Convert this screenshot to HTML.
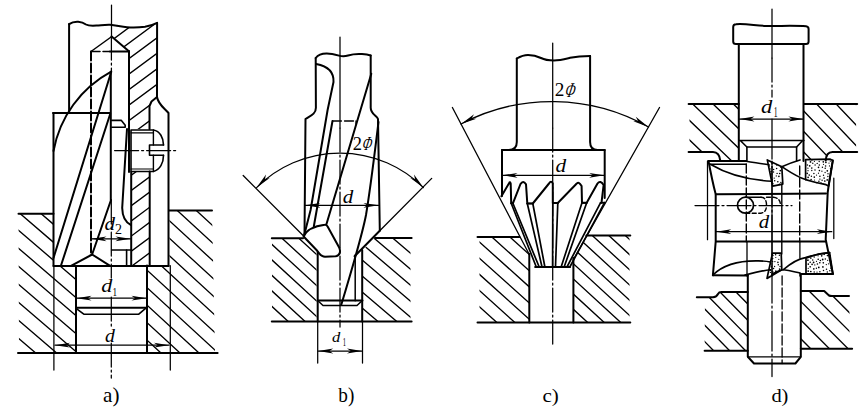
<!DOCTYPE html>
<html><head><meta charset="utf-8"><style>
html,body{margin:0;padding:0;background:#fff;width:865px;height:412px;overflow:hidden}
svg{display:block}
text{fill:#000;stroke:none;font-family:"Liberation Serif",serif}
</style></head><body>
<svg width="865" height="412" viewBox="0 0 865 412">
<defs><clipPath id="c1"><polygon points="18.5,214 53.7,214 53.7,266 76,266 76,353 19,353"/></clipPath><clipPath id="c2"><polygon points="169.5,210.5 212,210.5 215,353 147,353 147,265.5 169.5,265.5"/></clipPath><clipPath id="c3"><polygon points="111.6,25 121,26.8 127,27.3 139,27.6 150,26 157.1,22.9 157,97 151.5,101.5 149.5,106 149.5,129 129,129 129,51 111.6,36.4"/></clipPath><clipPath id="c4"><polygon points="131.2,172 149.7,172 149.7,265 131.2,265"/></clipPath><clipPath id="c5"><polygon points="272,238.5 302.7,238.5 316.5,252.5 316.5,321.4 272,321.4"/></clipPath><clipPath id="c6"><polygon points="374.8,238 410.5,238 410.5,321.4 362.5,321.4 362.5,250.5"/></clipPath><clipPath id="c7"><polygon points="479.5,237 519.3,237 529.3,254.5 529.3,322.6 479.5,322.6"/></clipPath><clipPath id="c8"><polygon points="586.4,235.5 629.5,235.5 629.5,322.6 573.4,322.6 573.4,259.5"/></clipPath><clipPath id="c9"><polygon points="689.5,104.1 738.9,104.1 738.9,160.4 720.2,160.4 715,153 689.5,151.5"/></clipPath><clipPath id="c10"><polygon points="803.9,104.1 856.1,104.1 856.1,151.2 831.8,151.2 826,158 825.7,160.4 803.9,160.4"/></clipPath><clipPath id="c11"><polygon points="705,297.2 714.3,297.2 720.4,292.1 747.6,292.1 747.6,350.4 704.6,350.4"/></clipPath><clipPath id="c12"><polygon points="800.8,291.1 824.2,291.1 831.5,296 849.5,296 849.5,348.7 800.8,348.7"/></clipPath></defs>
<rect width="865" height="412" fill="#fff"/>
<g stroke="#000" fill="none" stroke-linecap="round" stroke-linejoin="round" font-family="'Liberation Serif', serif">
<g clip-path="url(#c1)">
<line x1="-50" y1="-872.7" x2="915" y2="-42.8" stroke-width="1.35"/>
<line x1="-50" y1="-854.7" x2="915" y2="-24.8" stroke-width="1.35"/>
<line x1="-50" y1="-836.7" x2="915" y2="-6.8" stroke-width="1.35"/>
<line x1="-50" y1="-818.7" x2="915" y2="11.2" stroke-width="1.35"/>
<line x1="-50" y1="-800.7" x2="915" y2="29.2" stroke-width="1.35"/>
<line x1="-50" y1="-782.7" x2="915" y2="47.2" stroke-width="1.35"/>
<line x1="-50" y1="-764.7" x2="915" y2="65.2" stroke-width="1.35"/>
<line x1="-50" y1="-746.7" x2="915" y2="83.2" stroke-width="1.35"/>
<line x1="-50" y1="-728.7" x2="915" y2="101.2" stroke-width="1.35"/>
<line x1="-50" y1="-710.7" x2="915" y2="119.2" stroke-width="1.35"/>
<line x1="-50" y1="-692.7" x2="915" y2="137.2" stroke-width="1.35"/>
<line x1="-50" y1="-674.7" x2="915" y2="155.2" stroke-width="1.35"/>
<line x1="-50" y1="-656.7" x2="915" y2="173.2" stroke-width="1.35"/>
<line x1="-50" y1="-638.7" x2="915" y2="191.2" stroke-width="1.35"/>
<line x1="-50" y1="-620.7" x2="915" y2="209.2" stroke-width="1.35"/>
<line x1="-50" y1="-602.7" x2="915" y2="227.2" stroke-width="1.35"/>
<line x1="-50" y1="-584.7" x2="915" y2="245.2" stroke-width="1.35"/>
<line x1="-50" y1="-566.7" x2="915" y2="263.2" stroke-width="1.35"/>
<line x1="-50" y1="-548.7" x2="915" y2="281.2" stroke-width="1.35"/>
<line x1="-50" y1="-530.7" x2="915" y2="299.2" stroke-width="1.35"/>
<line x1="-50" y1="-512.7" x2="915" y2="317.2" stroke-width="1.35"/>
<line x1="-50" y1="-494.7" x2="915" y2="335.2" stroke-width="1.35"/>
<line x1="-50" y1="-476.7" x2="915" y2="353.2" stroke-width="1.35"/>
<line x1="-50" y1="-458.7" x2="915" y2="371.2" stroke-width="1.35"/>
<line x1="-50" y1="-440.7" x2="915" y2="389.2" stroke-width="1.35"/>
<line x1="-50" y1="-422.7" x2="915" y2="407.2" stroke-width="1.35"/>
<line x1="-50" y1="-404.7" x2="915" y2="425.2" stroke-width="1.35"/>
<line x1="-50" y1="-386.7" x2="915" y2="443.2" stroke-width="1.35"/>
<line x1="-50" y1="-368.7" x2="915" y2="461.2" stroke-width="1.35"/>
<line x1="-50" y1="-350.7" x2="915" y2="479.2" stroke-width="1.35"/>
<line x1="-50" y1="-332.7" x2="915" y2="497.2" stroke-width="1.35"/>
<line x1="-50" y1="-314.7" x2="915" y2="515.2" stroke-width="1.35"/>
<line x1="-50" y1="-296.7" x2="915" y2="533.2" stroke-width="1.35"/>
<line x1="-50" y1="-278.7" x2="915" y2="551.2" stroke-width="1.35"/>
<line x1="-50" y1="-260.7" x2="915" y2="569.2" stroke-width="1.35"/>
<line x1="-50" y1="-242.7" x2="915" y2="587.2" stroke-width="1.35"/>
<line x1="-50" y1="-224.7" x2="915" y2="605.2" stroke-width="1.35"/>
<line x1="-50" y1="-206.7" x2="915" y2="623.2" stroke-width="1.35"/>
<line x1="-50" y1="-188.7" x2="915" y2="641.2" stroke-width="1.35"/>
<line x1="-50" y1="-170.7" x2="915" y2="659.2" stroke-width="1.35"/>
<line x1="-50" y1="-152.7" x2="915" y2="677.2" stroke-width="1.35"/>
<line x1="-50" y1="-134.7" x2="915" y2="695.2" stroke-width="1.35"/>
<line x1="-50" y1="-116.7" x2="915" y2="713.2" stroke-width="1.35"/>
<line x1="-50" y1="-98.7" x2="915" y2="731.2" stroke-width="1.35"/>
<line x1="-50" y1="-80.7" x2="915" y2="749.2" stroke-width="1.35"/>
<line x1="-50" y1="-62.7" x2="915" y2="767.2" stroke-width="1.35"/>
<line x1="-50" y1="-44.7" x2="915" y2="785.2" stroke-width="1.35"/>
<line x1="-50" y1="-26.7" x2="915" y2="803.2" stroke-width="1.35"/>
<line x1="-50" y1="-8.7" x2="915" y2="821.2" stroke-width="1.35"/>
<line x1="-50" y1="9.3" x2="915" y2="839.2" stroke-width="1.35"/>
<line x1="-50" y1="27.3" x2="915" y2="857.2" stroke-width="1.35"/>
<line x1="-50" y1="45.3" x2="915" y2="875.2" stroke-width="1.35"/>
<line x1="-50" y1="63.3" x2="915" y2="893.2" stroke-width="1.35"/>
<line x1="-50" y1="81.3" x2="915" y2="911.2" stroke-width="1.35"/>
<line x1="-50" y1="99.3" x2="915" y2="929.2" stroke-width="1.35"/>
<line x1="-50" y1="117.3" x2="915" y2="947.2" stroke-width="1.35"/>
<line x1="-50" y1="135.3" x2="915" y2="965.2" stroke-width="1.35"/>
<line x1="-50" y1="153.3" x2="915" y2="983.2" stroke-width="1.35"/>
<line x1="-50" y1="171.3" x2="915" y2="1001.2" stroke-width="1.35"/>
<line x1="-50" y1="189.3" x2="915" y2="1019.2" stroke-width="1.35"/>
<line x1="-50" y1="207.3" x2="915" y2="1037.2" stroke-width="1.35"/>
<line x1="-50" y1="225.3" x2="915" y2="1055.2" stroke-width="1.35"/>
<line x1="-50" y1="243.3" x2="915" y2="1073.2" stroke-width="1.35"/>
<line x1="-50" y1="261.3" x2="915" y2="1091.2" stroke-width="1.35"/>
<line x1="-50" y1="279.3" x2="915" y2="1109.2" stroke-width="1.35"/>
<line x1="-50" y1="297.3" x2="915" y2="1127.2" stroke-width="1.35"/>
<line x1="-50" y1="315.3" x2="915" y2="1145.2" stroke-width="1.35"/>
<line x1="-50" y1="333.3" x2="915" y2="1163.2" stroke-width="1.35"/>
<line x1="-50" y1="351.3" x2="915" y2="1181.2" stroke-width="1.35"/>
<line x1="-50" y1="369.3" x2="915" y2="1199.2" stroke-width="1.35"/>
<line x1="-50" y1="387.3" x2="915" y2="1217.2" stroke-width="1.35"/>
<line x1="-50" y1="405.3" x2="915" y2="1235.2" stroke-width="1.35"/>
<line x1="-50" y1="423.3" x2="915" y2="1253.2" stroke-width="1.35"/>
<line x1="-50" y1="441.3" x2="915" y2="1271.2" stroke-width="1.35"/>
<line x1="-50" y1="459.3" x2="915" y2="1289.2" stroke-width="1.35"/>
</g>
<g clip-path="url(#c2)">
<line x1="-50" y1="-926.1" x2="915" y2="-38.3" stroke-width="1.35"/>
<line x1="-50" y1="-908.6" x2="915" y2="-20.8" stroke-width="1.35"/>
<line x1="-50" y1="-891.1" x2="915" y2="-3.3" stroke-width="1.35"/>
<line x1="-50" y1="-873.6" x2="915" y2="14.2" stroke-width="1.35"/>
<line x1="-50" y1="-856.1" x2="915" y2="31.7" stroke-width="1.35"/>
<line x1="-50" y1="-838.6" x2="915" y2="49.2" stroke-width="1.35"/>
<line x1="-50" y1="-821.1" x2="915" y2="66.7" stroke-width="1.35"/>
<line x1="-50" y1="-803.6" x2="915" y2="84.2" stroke-width="1.35"/>
<line x1="-50" y1="-786.1" x2="915" y2="101.7" stroke-width="1.35"/>
<line x1="-50" y1="-768.6" x2="915" y2="119.2" stroke-width="1.35"/>
<line x1="-50" y1="-751.1" x2="915" y2="136.7" stroke-width="1.35"/>
<line x1="-50" y1="-733.6" x2="915" y2="154.2" stroke-width="1.35"/>
<line x1="-50" y1="-716.1" x2="915" y2="171.7" stroke-width="1.35"/>
<line x1="-50" y1="-698.6" x2="915" y2="189.2" stroke-width="1.35"/>
<line x1="-50" y1="-681.1" x2="915" y2="206.7" stroke-width="1.35"/>
<line x1="-50" y1="-663.6" x2="915" y2="224.2" stroke-width="1.35"/>
<line x1="-50" y1="-646.1" x2="915" y2="241.7" stroke-width="1.35"/>
<line x1="-50" y1="-628.6" x2="915" y2="259.2" stroke-width="1.35"/>
<line x1="-50" y1="-611.1" x2="915" y2="276.7" stroke-width="1.35"/>
<line x1="-50" y1="-593.6" x2="915" y2="294.2" stroke-width="1.35"/>
<line x1="-50" y1="-576.1" x2="915" y2="311.7" stroke-width="1.35"/>
<line x1="-50" y1="-558.6" x2="915" y2="329.2" stroke-width="1.35"/>
<line x1="-50" y1="-541.1" x2="915" y2="346.7" stroke-width="1.35"/>
<line x1="-50" y1="-523.6" x2="915" y2="364.2" stroke-width="1.35"/>
<line x1="-50" y1="-506.1" x2="915" y2="381.7" stroke-width="1.35"/>
<line x1="-50" y1="-488.6" x2="915" y2="399.2" stroke-width="1.35"/>
<line x1="-50" y1="-471.1" x2="915" y2="416.7" stroke-width="1.35"/>
<line x1="-50" y1="-453.6" x2="915" y2="434.2" stroke-width="1.35"/>
<line x1="-50" y1="-436.1" x2="915" y2="451.7" stroke-width="1.35"/>
<line x1="-50" y1="-418.6" x2="915" y2="469.2" stroke-width="1.35"/>
<line x1="-50" y1="-401.1" x2="915" y2="486.7" stroke-width="1.35"/>
<line x1="-50" y1="-383.6" x2="915" y2="504.2" stroke-width="1.35"/>
<line x1="-50" y1="-366.1" x2="915" y2="521.7" stroke-width="1.35"/>
<line x1="-50" y1="-348.6" x2="915" y2="539.2" stroke-width="1.35"/>
<line x1="-50" y1="-331.1" x2="915" y2="556.7" stroke-width="1.35"/>
<line x1="-50" y1="-313.6" x2="915" y2="574.2" stroke-width="1.35"/>
<line x1="-50" y1="-296.1" x2="915" y2="591.7" stroke-width="1.35"/>
<line x1="-50" y1="-278.6" x2="915" y2="609.2" stroke-width="1.35"/>
<line x1="-50" y1="-261.1" x2="915" y2="626.7" stroke-width="1.35"/>
<line x1="-50" y1="-243.6" x2="915" y2="644.2" stroke-width="1.35"/>
<line x1="-50" y1="-226.1" x2="915" y2="661.7" stroke-width="1.35"/>
<line x1="-50" y1="-208.6" x2="915" y2="679.2" stroke-width="1.35"/>
<line x1="-50" y1="-191.1" x2="915" y2="696.7" stroke-width="1.35"/>
<line x1="-50" y1="-173.6" x2="915" y2="714.2" stroke-width="1.35"/>
<line x1="-50" y1="-156.1" x2="915" y2="731.7" stroke-width="1.35"/>
<line x1="-50" y1="-138.6" x2="915" y2="749.2" stroke-width="1.35"/>
<line x1="-50" y1="-121.1" x2="915" y2="766.7" stroke-width="1.35"/>
<line x1="-50" y1="-103.6" x2="915" y2="784.2" stroke-width="1.35"/>
<line x1="-50" y1="-86.1" x2="915" y2="801.7" stroke-width="1.35"/>
<line x1="-50" y1="-68.6" x2="915" y2="819.2" stroke-width="1.35"/>
<line x1="-50" y1="-51.1" x2="915" y2="836.7" stroke-width="1.35"/>
<line x1="-50" y1="-33.6" x2="915" y2="854.2" stroke-width="1.35"/>
<line x1="-50" y1="-16.1" x2="915" y2="871.7" stroke-width="1.35"/>
<line x1="-50" y1="1.4" x2="915" y2="889.2" stroke-width="1.35"/>
<line x1="-50" y1="18.9" x2="915" y2="906.7" stroke-width="1.35"/>
<line x1="-50" y1="36.4" x2="915" y2="924.2" stroke-width="1.35"/>
<line x1="-50" y1="53.9" x2="915" y2="941.7" stroke-width="1.35"/>
<line x1="-50" y1="71.4" x2="915" y2="959.2" stroke-width="1.35"/>
<line x1="-50" y1="88.9" x2="915" y2="976.7" stroke-width="1.35"/>
<line x1="-50" y1="106.4" x2="915" y2="994.2" stroke-width="1.35"/>
<line x1="-50" y1="123.9" x2="915" y2="1011.7" stroke-width="1.35"/>
<line x1="-50" y1="141.4" x2="915" y2="1029.2" stroke-width="1.35"/>
<line x1="-50" y1="158.9" x2="915" y2="1046.7" stroke-width="1.35"/>
<line x1="-50" y1="176.4" x2="915" y2="1064.2" stroke-width="1.35"/>
<line x1="-50" y1="193.9" x2="915" y2="1081.7" stroke-width="1.35"/>
<line x1="-50" y1="211.4" x2="915" y2="1099.2" stroke-width="1.35"/>
<line x1="-50" y1="228.9" x2="915" y2="1116.7" stroke-width="1.35"/>
<line x1="-50" y1="246.4" x2="915" y2="1134.2" stroke-width="1.35"/>
<line x1="-50" y1="263.9" x2="915" y2="1151.7" stroke-width="1.35"/>
<line x1="-50" y1="281.4" x2="915" y2="1169.2" stroke-width="1.35"/>
<line x1="-50" y1="298.9" x2="915" y2="1186.7" stroke-width="1.35"/>
<line x1="-50" y1="316.4" x2="915" y2="1204.2" stroke-width="1.35"/>
<line x1="-50" y1="333.9" x2="915" y2="1221.7" stroke-width="1.35"/>
<line x1="-50" y1="351.4" x2="915" y2="1239.2" stroke-width="1.35"/>
<line x1="-50" y1="368.9" x2="915" y2="1256.7" stroke-width="1.35"/>
<line x1="-50" y1="386.4" x2="915" y2="1274.2" stroke-width="1.35"/>
<line x1="-50" y1="403.9" x2="915" y2="1291.7" stroke-width="1.35"/>
<line x1="-50" y1="421.4" x2="915" y2="1309.2" stroke-width="1.35"/>
<line x1="-50" y1="438.9" x2="915" y2="1326.7" stroke-width="1.35"/>
<line x1="-50" y1="456.4" x2="915" y2="1344.2" stroke-width="1.35"/>
</g>
<line x1="18.5" y1="213.7" x2="53.5" y2="213.7" stroke-width="2.0"/>
<line x1="169" y1="210.5" x2="212" y2="210.5" stroke-width="2.0"/>
<line x1="18" y1="353" x2="217.6" y2="353" stroke-width="2.0"/>
<line x1="76" y1="266" x2="76" y2="353" stroke-width="2.0"/>
<line x1="147" y1="265.5" x2="147" y2="353" stroke-width="2.0"/>
<line x1="76" y1="307.8" x2="147" y2="307.8" stroke-width="2.0"/>
<path d="M76.4,308.6 L83.8,314.2 L138.8,314.2 L145.6,308.4" stroke-width="1.6" fill="none"/>
<line x1="53.9" y1="266" x2="53.9" y2="370" stroke-width="1.25"/>
<line x1="170.3" y1="265.5" x2="170.3" y2="370" stroke-width="1.25"/>
<line x1="76.5" y1="298.2" x2="146.5" y2="298.2" stroke-width="1.25"/>
<path d="M76.5,298.2 L91.5,295.8 L87.8,298.2 L91.5,300.6 Z" fill="#000" stroke="none"/>
<path d="M146.5,298.2 L131.5,300.6 L135.2,298.2 L131.5,295.8 Z" fill="#000" stroke="none"/>
<line x1="91.5" y1="238.8" x2="130.5" y2="238.8" stroke-width="1.25"/>
<path d="M91.5,238.8 L106.5,236.4 L102.8,238.8 L106.5,241.2 Z" fill="#000" stroke="none"/>
<path d="M130.5,238.8 L115.5,241.2 L119.2,238.8 L115.5,236.4 Z" fill="#000" stroke="none"/>
<line x1="55" y1="345.2" x2="169" y2="345.2" stroke-width="1.25"/>
<path d="M55.0,345.2 L70.0,342.8 L66.2,345.2 L70.0,347.6 Z" fill="#000" stroke="none"/>
<path d="M169.0,345.2 L154.0,347.6 L157.8,345.2 L154.0,342.8 Z" fill="#000" stroke="none"/>
<g clip-path="url(#c3)">
<line x1="-50" y1="-41.5" x2="915" y2="-755.6" stroke-width="1.35"/>
<line x1="-50" y1="-26.0" x2="915" y2="-740.1" stroke-width="1.35"/>
<line x1="-50" y1="-10.5" x2="915" y2="-724.6" stroke-width="1.35"/>
<line x1="-50" y1="5.0" x2="915" y2="-709.1" stroke-width="1.35"/>
<line x1="-50" y1="20.5" x2="915" y2="-693.6" stroke-width="1.35"/>
<line x1="-50" y1="36.0" x2="915" y2="-678.1" stroke-width="1.35"/>
<line x1="-50" y1="51.5" x2="915" y2="-662.6" stroke-width="1.35"/>
<line x1="-50" y1="67.0" x2="915" y2="-647.1" stroke-width="1.35"/>
<line x1="-50" y1="82.5" x2="915" y2="-631.6" stroke-width="1.35"/>
<line x1="-50" y1="98.0" x2="915" y2="-616.1" stroke-width="1.35"/>
<line x1="-50" y1="113.5" x2="915" y2="-600.6" stroke-width="1.35"/>
<line x1="-50" y1="129.0" x2="915" y2="-585.1" stroke-width="1.35"/>
<line x1="-50" y1="144.5" x2="915" y2="-569.6" stroke-width="1.35"/>
<line x1="-50" y1="160.0" x2="915" y2="-554.1" stroke-width="1.35"/>
<line x1="-50" y1="175.5" x2="915" y2="-538.6" stroke-width="1.35"/>
<line x1="-50" y1="191.0" x2="915" y2="-523.1" stroke-width="1.35"/>
<line x1="-50" y1="206.5" x2="915" y2="-507.6" stroke-width="1.35"/>
<line x1="-50" y1="222.0" x2="915" y2="-492.1" stroke-width="1.35"/>
<line x1="-50" y1="237.5" x2="915" y2="-476.6" stroke-width="1.35"/>
<line x1="-50" y1="253.0" x2="915" y2="-461.1" stroke-width="1.35"/>
<line x1="-50" y1="268.5" x2="915" y2="-445.6" stroke-width="1.35"/>
<line x1="-50" y1="284.0" x2="915" y2="-430.1" stroke-width="1.35"/>
<line x1="-50" y1="299.5" x2="915" y2="-414.6" stroke-width="1.35"/>
<line x1="-50" y1="315.0" x2="915" y2="-399.1" stroke-width="1.35"/>
<line x1="-50" y1="330.5" x2="915" y2="-383.6" stroke-width="1.35"/>
<line x1="-50" y1="346.0" x2="915" y2="-368.1" stroke-width="1.35"/>
<line x1="-50" y1="361.5" x2="915" y2="-352.6" stroke-width="1.35"/>
<line x1="-50" y1="377.0" x2="915" y2="-337.1" stroke-width="1.35"/>
<line x1="-50" y1="392.5" x2="915" y2="-321.6" stroke-width="1.35"/>
<line x1="-50" y1="408.0" x2="915" y2="-306.1" stroke-width="1.35"/>
<line x1="-50" y1="423.5" x2="915" y2="-290.6" stroke-width="1.35"/>
<line x1="-50" y1="439.0" x2="915" y2="-275.1" stroke-width="1.35"/>
<line x1="-50" y1="454.5" x2="915" y2="-259.6" stroke-width="1.35"/>
<line x1="-50" y1="470.0" x2="915" y2="-244.1" stroke-width="1.35"/>
<line x1="-50" y1="485.5" x2="915" y2="-228.6" stroke-width="1.35"/>
<line x1="-50" y1="501.0" x2="915" y2="-213.1" stroke-width="1.35"/>
<line x1="-50" y1="516.5" x2="915" y2="-197.6" stroke-width="1.35"/>
<line x1="-50" y1="532.0" x2="915" y2="-182.1" stroke-width="1.35"/>
<line x1="-50" y1="547.5" x2="915" y2="-166.6" stroke-width="1.35"/>
<line x1="-50" y1="563.0" x2="915" y2="-151.1" stroke-width="1.35"/>
<line x1="-50" y1="578.5" x2="915" y2="-135.6" stroke-width="1.35"/>
<line x1="-50" y1="594.0" x2="915" y2="-120.1" stroke-width="1.35"/>
<line x1="-50" y1="609.5" x2="915" y2="-104.6" stroke-width="1.35"/>
<line x1="-50" y1="625.0" x2="915" y2="-89.1" stroke-width="1.35"/>
<line x1="-50" y1="640.5" x2="915" y2="-73.6" stroke-width="1.35"/>
<line x1="-50" y1="656.0" x2="915" y2="-58.1" stroke-width="1.35"/>
<line x1="-50" y1="671.5" x2="915" y2="-42.6" stroke-width="1.35"/>
<line x1="-50" y1="687.0" x2="915" y2="-27.1" stroke-width="1.35"/>
<line x1="-50" y1="702.5" x2="915" y2="-11.6" stroke-width="1.35"/>
<line x1="-50" y1="718.0" x2="915" y2="3.9" stroke-width="1.35"/>
<line x1="-50" y1="733.5" x2="915" y2="19.4" stroke-width="1.35"/>
<line x1="-50" y1="749.0" x2="915" y2="34.9" stroke-width="1.35"/>
<line x1="-50" y1="764.5" x2="915" y2="50.4" stroke-width="1.35"/>
<line x1="-50" y1="780.0" x2="915" y2="65.9" stroke-width="1.35"/>
<line x1="-50" y1="795.5" x2="915" y2="81.4" stroke-width="1.35"/>
<line x1="-50" y1="811.0" x2="915" y2="96.9" stroke-width="1.35"/>
<line x1="-50" y1="826.5" x2="915" y2="112.4" stroke-width="1.35"/>
<line x1="-50" y1="842.0" x2="915" y2="127.9" stroke-width="1.35"/>
<line x1="-50" y1="857.5" x2="915" y2="143.4" stroke-width="1.35"/>
<line x1="-50" y1="873.0" x2="915" y2="158.9" stroke-width="1.35"/>
<line x1="-50" y1="888.5" x2="915" y2="174.4" stroke-width="1.35"/>
<line x1="-50" y1="904.0" x2="915" y2="189.9" stroke-width="1.35"/>
<line x1="-50" y1="919.5" x2="915" y2="205.4" stroke-width="1.35"/>
<line x1="-50" y1="935.0" x2="915" y2="220.9" stroke-width="1.35"/>
<line x1="-50" y1="950.5" x2="915" y2="236.4" stroke-width="1.35"/>
<line x1="-50" y1="966.0" x2="915" y2="251.9" stroke-width="1.35"/>
<line x1="-50" y1="981.5" x2="915" y2="267.4" stroke-width="1.35"/>
<line x1="-50" y1="997.0" x2="915" y2="282.9" stroke-width="1.35"/>
<line x1="-50" y1="1012.5" x2="915" y2="298.4" stroke-width="1.35"/>
<line x1="-50" y1="1028.0" x2="915" y2="313.9" stroke-width="1.35"/>
<line x1="-50" y1="1043.5" x2="915" y2="329.4" stroke-width="1.35"/>
<line x1="-50" y1="1059.0" x2="915" y2="344.9" stroke-width="1.35"/>
<line x1="-50" y1="1074.5" x2="915" y2="360.4" stroke-width="1.35"/>
<line x1="-50" y1="1090.0" x2="915" y2="375.9" stroke-width="1.35"/>
<line x1="-50" y1="1105.5" x2="915" y2="391.4" stroke-width="1.35"/>
<line x1="-50" y1="1121.0" x2="915" y2="406.9" stroke-width="1.35"/>
<line x1="-50" y1="1136.5" x2="915" y2="422.4" stroke-width="1.35"/>
<line x1="-50" y1="1152.0" x2="915" y2="437.9" stroke-width="1.35"/>
<line x1="-50" y1="1167.5" x2="915" y2="453.4" stroke-width="1.35"/>
</g>
<g clip-path="url(#c4)">
<line x1="-50" y1="-40.2" x2="915" y2="-754.3" stroke-width="1.35"/>
<line x1="-50" y1="-25.0" x2="915" y2="-739.1" stroke-width="1.35"/>
<line x1="-50" y1="-9.8" x2="915" y2="-723.9" stroke-width="1.35"/>
<line x1="-50" y1="5.4" x2="915" y2="-708.7" stroke-width="1.35"/>
<line x1="-50" y1="20.6" x2="915" y2="-693.5" stroke-width="1.35"/>
<line x1="-50" y1="35.8" x2="915" y2="-678.3" stroke-width="1.35"/>
<line x1="-50" y1="51.0" x2="915" y2="-663.1" stroke-width="1.35"/>
<line x1="-50" y1="66.2" x2="915" y2="-647.9" stroke-width="1.35"/>
<line x1="-50" y1="81.4" x2="915" y2="-632.7" stroke-width="1.35"/>
<line x1="-50" y1="96.6" x2="915" y2="-617.5" stroke-width="1.35"/>
<line x1="-50" y1="111.8" x2="915" y2="-602.3" stroke-width="1.35"/>
<line x1="-50" y1="127.0" x2="915" y2="-587.1" stroke-width="1.35"/>
<line x1="-50" y1="142.2" x2="915" y2="-571.9" stroke-width="1.35"/>
<line x1="-50" y1="157.4" x2="915" y2="-556.7" stroke-width="1.35"/>
<line x1="-50" y1="172.6" x2="915" y2="-541.5" stroke-width="1.35"/>
<line x1="-50" y1="187.8" x2="915" y2="-526.3" stroke-width="1.35"/>
<line x1="-50" y1="203.0" x2="915" y2="-511.1" stroke-width="1.35"/>
<line x1="-50" y1="218.2" x2="915" y2="-495.9" stroke-width="1.35"/>
<line x1="-50" y1="233.4" x2="915" y2="-480.7" stroke-width="1.35"/>
<line x1="-50" y1="248.6" x2="915" y2="-465.5" stroke-width="1.35"/>
<line x1="-50" y1="263.8" x2="915" y2="-450.3" stroke-width="1.35"/>
<line x1="-50" y1="279.0" x2="915" y2="-435.1" stroke-width="1.35"/>
<line x1="-50" y1="294.2" x2="915" y2="-419.9" stroke-width="1.35"/>
<line x1="-50" y1="309.4" x2="915" y2="-404.7" stroke-width="1.35"/>
<line x1="-50" y1="324.6" x2="915" y2="-389.5" stroke-width="1.35"/>
<line x1="-50" y1="339.8" x2="915" y2="-374.3" stroke-width="1.35"/>
<line x1="-50" y1="355.0" x2="915" y2="-359.1" stroke-width="1.35"/>
<line x1="-50" y1="370.2" x2="915" y2="-343.9" stroke-width="1.35"/>
<line x1="-50" y1="385.4" x2="915" y2="-328.7" stroke-width="1.35"/>
<line x1="-50" y1="400.6" x2="915" y2="-313.5" stroke-width="1.35"/>
<line x1="-50" y1="415.8" x2="915" y2="-298.3" stroke-width="1.35"/>
<line x1="-50" y1="431.0" x2="915" y2="-283.1" stroke-width="1.35"/>
<line x1="-50" y1="446.2" x2="915" y2="-267.9" stroke-width="1.35"/>
<line x1="-50" y1="461.4" x2="915" y2="-252.7" stroke-width="1.35"/>
<line x1="-50" y1="476.6" x2="915" y2="-237.5" stroke-width="1.35"/>
<line x1="-50" y1="491.8" x2="915" y2="-222.3" stroke-width="1.35"/>
<line x1="-50" y1="507.0" x2="915" y2="-207.1" stroke-width="1.35"/>
<line x1="-50" y1="522.2" x2="915" y2="-191.9" stroke-width="1.35"/>
<line x1="-50" y1="537.4" x2="915" y2="-176.7" stroke-width="1.35"/>
<line x1="-50" y1="552.6" x2="915" y2="-161.5" stroke-width="1.35"/>
<line x1="-50" y1="567.8" x2="915" y2="-146.3" stroke-width="1.35"/>
<line x1="-50" y1="583.0" x2="915" y2="-131.1" stroke-width="1.35"/>
<line x1="-50" y1="598.2" x2="915" y2="-115.9" stroke-width="1.35"/>
<line x1="-50" y1="613.4" x2="915" y2="-100.7" stroke-width="1.35"/>
<line x1="-50" y1="628.6" x2="915" y2="-85.5" stroke-width="1.35"/>
<line x1="-50" y1="643.8" x2="915" y2="-70.3" stroke-width="1.35"/>
<line x1="-50" y1="659.0" x2="915" y2="-55.1" stroke-width="1.35"/>
<line x1="-50" y1="674.2" x2="915" y2="-39.9" stroke-width="1.35"/>
<line x1="-50" y1="689.4" x2="915" y2="-24.7" stroke-width="1.35"/>
<line x1="-50" y1="704.6" x2="915" y2="-9.5" stroke-width="1.35"/>
<line x1="-50" y1="719.8" x2="915" y2="5.7" stroke-width="1.35"/>
<line x1="-50" y1="735.0" x2="915" y2="20.9" stroke-width="1.35"/>
<line x1="-50" y1="750.2" x2="915" y2="36.1" stroke-width="1.35"/>
<line x1="-50" y1="765.4" x2="915" y2="51.3" stroke-width="1.35"/>
<line x1="-50" y1="780.6" x2="915" y2="66.5" stroke-width="1.35"/>
<line x1="-50" y1="795.8" x2="915" y2="81.7" stroke-width="1.35"/>
<line x1="-50" y1="811.0" x2="915" y2="96.9" stroke-width="1.35"/>
<line x1="-50" y1="826.2" x2="915" y2="112.1" stroke-width="1.35"/>
<line x1="-50" y1="841.4" x2="915" y2="127.3" stroke-width="1.35"/>
<line x1="-50" y1="856.6" x2="915" y2="142.5" stroke-width="1.35"/>
<line x1="-50" y1="871.8" x2="915" y2="157.7" stroke-width="1.35"/>
<line x1="-50" y1="887.0" x2="915" y2="172.9" stroke-width="1.35"/>
<line x1="-50" y1="902.2" x2="915" y2="188.1" stroke-width="1.35"/>
<line x1="-50" y1="917.4" x2="915" y2="203.3" stroke-width="1.35"/>
<line x1="-50" y1="932.6" x2="915" y2="218.5" stroke-width="1.35"/>
<line x1="-50" y1="947.8" x2="915" y2="233.7" stroke-width="1.35"/>
<line x1="-50" y1="963.0" x2="915" y2="248.9" stroke-width="1.35"/>
<line x1="-50" y1="978.2" x2="915" y2="264.1" stroke-width="1.35"/>
<line x1="-50" y1="993.4" x2="915" y2="279.3" stroke-width="1.35"/>
<line x1="-50" y1="1008.6" x2="915" y2="294.5" stroke-width="1.35"/>
<line x1="-50" y1="1023.8" x2="915" y2="309.7" stroke-width="1.35"/>
<line x1="-50" y1="1039.0" x2="915" y2="324.9" stroke-width="1.35"/>
<line x1="-50" y1="1054.2" x2="915" y2="340.1" stroke-width="1.35"/>
<line x1="-50" y1="1069.4" x2="915" y2="355.3" stroke-width="1.35"/>
<line x1="-50" y1="1084.6" x2="915" y2="370.5" stroke-width="1.35"/>
<line x1="-50" y1="1099.8" x2="915" y2="385.7" stroke-width="1.35"/>
<line x1="-50" y1="1115.0" x2="915" y2="400.9" stroke-width="1.35"/>
<line x1="-50" y1="1130.2" x2="915" y2="416.1" stroke-width="1.35"/>
<line x1="-50" y1="1145.4" x2="915" y2="431.3" stroke-width="1.35"/>
<line x1="-50" y1="1160.6" x2="915" y2="446.5" stroke-width="1.35"/>
<line x1="-50" y1="1175.8" x2="915" y2="461.7" stroke-width="1.35"/>
</g>
<path d="M69.1,24.1 C72,22 75,21.5 78.2,21.7 C81,21.9 84,23 86,24.5 C88,25.7 91,26 96.4,25.6 C102,25.2 106,24.6 110,24.8 C116,25.3 121,26.8 127,27.3 C133,27.7 139,27.6 145,26.8 C150,26 154,24.5 157.1,22.9" stroke-width="2.0" fill="none"/>
<line x1="69.1" y1="24.1" x2="69.1" y2="113" stroke-width="2.0"/>
<line x1="157.1" y1="22.9" x2="157" y2="97" stroke-width="2.0"/>
<path d="M157,97 C158,104 164,108 168.5,113 L168.5,266" stroke-width="2.0" fill="none"/>
<path d="M157,97 L151.5,101.5 L149.5,106 L149.5,129" stroke-width="2.0" fill="none"/>
<line x1="149.7" y1="171.5" x2="149.7" y2="266" stroke-width="2.0"/>
<line x1="91" y1="51.5" x2="91" y2="253" stroke-width="2.0" stroke-dasharray="9,3"/>
<line x1="91" y1="51.5" x2="110" y2="51.5" stroke-width="1.5" stroke-dasharray="9,3"/>
<line x1="110" y1="51.5" x2="128.6" y2="51.5" stroke-width="2.0"/>
<line x1="91" y1="51.5" x2="111.8" y2="36.5" stroke-width="1.5"/>
<line x1="111.6" y1="36.4" x2="128.6" y2="51" stroke-width="2.0"/>
<line x1="129" y1="51" x2="129" y2="172" stroke-width="2.0"/>
<line x1="53" y1="113" x2="110.2" y2="113" stroke-width="2.0"/>
<line x1="53.5" y1="113" x2="53.5" y2="266" stroke-width="2.0"/>
<line x1="53.5" y1="266" x2="168.5" y2="266" stroke-width="2.0"/>
<path d="M111.2,71.7 A113.1,113.1 0 0 0 53.5,151" stroke-width="2.0" fill="none"/>
<line x1="111.2" y1="72" x2="53.5" y2="258" stroke-width="2.0"/>
<line x1="110.2" y1="114" x2="61" y2="265.5" stroke-width="2.0"/>
<line x1="110.8" y1="71.7" x2="110.8" y2="200" stroke-width="2.0"/>
<path d="M111.7,120.4 L121.4,120.4 L125.2,125.2 L125.2,127.2 L111.7,127.2" stroke-width="1.6" fill="none"/>
<path d="M127,129 L122.2,208 Q122.5,221 131,225" stroke-width="2.0" fill="none"/>
<line x1="131.2" y1="172" x2="131.2" y2="266" stroke-width="2.0"/>
<line x1="111" y1="200" x2="92.1" y2="254.5" stroke-width="2.0"/>
<path d="M71,265.8 L92.1,254.5 L110.1,265.8" stroke-width="2.0" fill="none"/>
<line x1="111.6" y1="250" x2="131.2" y2="250" stroke-width="1.6"/>
<line x1="126.6" y1="250" x2="126.6" y2="265.5" stroke-width="1.6"/>
<path d="M131,171.5 L131,130 L153.4,130 C160,131 163.5,138 163.5,145 M163.5,155.2 C163.5,163 160,170 153.4,171.5 L131,171.5" stroke-width="1.6" fill="none"/>
<path d="M149.5,145 L163.5,145 M149.5,145 L149.5,155.2 L163.5,155.2" stroke-width="1.6" fill="none"/>
<line x1="131" y1="132.8" x2="153.4" y2="132.8" stroke-width="1.2"/>
<line x1="131" y1="169" x2="153.4" y2="169" stroke-width="1.2"/>
<line x1="153.4" y1="130" x2="153.4" y2="145" stroke-width="1.4"/>
<line x1="153.4" y1="155.2" x2="153.4" y2="171.5" stroke-width="1.4"/>
<line x1="114.6" y1="150.5" x2="178" y2="150.5" stroke-width="1.25" stroke-dasharray="24,3,2,3"/>
<line x1="111.5" y1="5" x2="111.5" y2="36" stroke-width="1.25"/>
<line x1="111.3" y1="200" x2="111.3" y2="278" stroke-width="1.25" stroke-dasharray="24,3,2,3"/>
<line x1="111.3" y1="297" x2="111.3" y2="328" stroke-width="1.25" stroke-dasharray="24,3,2,3"/>
<line x1="111.3" y1="343" x2="111.3" y2="378" stroke-width="1.25" stroke-dasharray="24,3,2,3"/>
<line x1="111.4" y1="36" x2="111.4" y2="72" stroke-width="1.25" stroke-dasharray="24,3,2,3"/>
<text transform="translate(101.24,292.11) scale(1.156,1)" font-size="19.14" style="font-style:italic;">d</text>
<text transform="translate(112.48,295.70) scale(0.694,1)" font-size="13.18" style="">1</text>
<text transform="translate(105.11,342.21) scale(1.065,1)" font-size="18.57" style="font-style:italic;">d</text>
<text transform="translate(104.47,230.11) scale(1.117,1)" font-size="18.86" style="font-style:italic;">d</text>
<text transform="translate(115.04,233.90) scale(0.989,1)" font-size="14.15" style="">2</text>
<text transform="translate(103.05,401.83) scale(1.041,1)" font-size="20.33" style="">a)</text>
<g clip-path="url(#c5)">
<line x1="-50" y1="-935.2" x2="915" y2="-47.4" stroke-width="1.35"/>
<line x1="-50" y1="-919.7" x2="915" y2="-31.9" stroke-width="1.35"/>
<line x1="-50" y1="-904.2" x2="915" y2="-16.4" stroke-width="1.35"/>
<line x1="-50" y1="-888.7" x2="915" y2="-0.9" stroke-width="1.35"/>
<line x1="-50" y1="-873.2" x2="915" y2="14.6" stroke-width="1.35"/>
<line x1="-50" y1="-857.7" x2="915" y2="30.1" stroke-width="1.35"/>
<line x1="-50" y1="-842.2" x2="915" y2="45.6" stroke-width="1.35"/>
<line x1="-50" y1="-826.7" x2="915" y2="61.1" stroke-width="1.35"/>
<line x1="-50" y1="-811.2" x2="915" y2="76.6" stroke-width="1.35"/>
<line x1="-50" y1="-795.7" x2="915" y2="92.1" stroke-width="1.35"/>
<line x1="-50" y1="-780.2" x2="915" y2="107.6" stroke-width="1.35"/>
<line x1="-50" y1="-764.7" x2="915" y2="123.1" stroke-width="1.35"/>
<line x1="-50" y1="-749.2" x2="915" y2="138.6" stroke-width="1.35"/>
<line x1="-50" y1="-733.7" x2="915" y2="154.1" stroke-width="1.35"/>
<line x1="-50" y1="-718.2" x2="915" y2="169.6" stroke-width="1.35"/>
<line x1="-50" y1="-702.7" x2="915" y2="185.1" stroke-width="1.35"/>
<line x1="-50" y1="-687.2" x2="915" y2="200.6" stroke-width="1.35"/>
<line x1="-50" y1="-671.7" x2="915" y2="216.1" stroke-width="1.35"/>
<line x1="-50" y1="-656.2" x2="915" y2="231.6" stroke-width="1.35"/>
<line x1="-50" y1="-640.7" x2="915" y2="247.1" stroke-width="1.35"/>
<line x1="-50" y1="-625.2" x2="915" y2="262.6" stroke-width="1.35"/>
<line x1="-50" y1="-609.7" x2="915" y2="278.1" stroke-width="1.35"/>
<line x1="-50" y1="-594.2" x2="915" y2="293.6" stroke-width="1.35"/>
<line x1="-50" y1="-578.7" x2="915" y2="309.1" stroke-width="1.35"/>
<line x1="-50" y1="-563.2" x2="915" y2="324.6" stroke-width="1.35"/>
<line x1="-50" y1="-547.7" x2="915" y2="340.1" stroke-width="1.35"/>
<line x1="-50" y1="-532.2" x2="915" y2="355.6" stroke-width="1.35"/>
<line x1="-50" y1="-516.7" x2="915" y2="371.1" stroke-width="1.35"/>
<line x1="-50" y1="-501.2" x2="915" y2="386.6" stroke-width="1.35"/>
<line x1="-50" y1="-485.7" x2="915" y2="402.1" stroke-width="1.35"/>
<line x1="-50" y1="-470.2" x2="915" y2="417.6" stroke-width="1.35"/>
<line x1="-50" y1="-454.7" x2="915" y2="433.1" stroke-width="1.35"/>
<line x1="-50" y1="-439.2" x2="915" y2="448.6" stroke-width="1.35"/>
<line x1="-50" y1="-423.7" x2="915" y2="464.1" stroke-width="1.35"/>
<line x1="-50" y1="-408.2" x2="915" y2="479.6" stroke-width="1.35"/>
<line x1="-50" y1="-392.7" x2="915" y2="495.1" stroke-width="1.35"/>
<line x1="-50" y1="-377.2" x2="915" y2="510.6" stroke-width="1.35"/>
<line x1="-50" y1="-361.7" x2="915" y2="526.1" stroke-width="1.35"/>
<line x1="-50" y1="-346.2" x2="915" y2="541.6" stroke-width="1.35"/>
<line x1="-50" y1="-330.7" x2="915" y2="557.1" stroke-width="1.35"/>
<line x1="-50" y1="-315.2" x2="915" y2="572.6" stroke-width="1.35"/>
<line x1="-50" y1="-299.7" x2="915" y2="588.1" stroke-width="1.35"/>
<line x1="-50" y1="-284.2" x2="915" y2="603.6" stroke-width="1.35"/>
<line x1="-50" y1="-268.7" x2="915" y2="619.1" stroke-width="1.35"/>
<line x1="-50" y1="-253.2" x2="915" y2="634.6" stroke-width="1.35"/>
<line x1="-50" y1="-237.7" x2="915" y2="650.1" stroke-width="1.35"/>
<line x1="-50" y1="-222.2" x2="915" y2="665.6" stroke-width="1.35"/>
<line x1="-50" y1="-206.7" x2="915" y2="681.1" stroke-width="1.35"/>
<line x1="-50" y1="-191.2" x2="915" y2="696.6" stroke-width="1.35"/>
<line x1="-50" y1="-175.7" x2="915" y2="712.1" stroke-width="1.35"/>
<line x1="-50" y1="-160.2" x2="915" y2="727.6" stroke-width="1.35"/>
<line x1="-50" y1="-144.7" x2="915" y2="743.1" stroke-width="1.35"/>
<line x1="-50" y1="-129.2" x2="915" y2="758.6" stroke-width="1.35"/>
<line x1="-50" y1="-113.7" x2="915" y2="774.1" stroke-width="1.35"/>
<line x1="-50" y1="-98.2" x2="915" y2="789.6" stroke-width="1.35"/>
<line x1="-50" y1="-82.7" x2="915" y2="805.1" stroke-width="1.35"/>
<line x1="-50" y1="-67.2" x2="915" y2="820.6" stroke-width="1.35"/>
<line x1="-50" y1="-51.7" x2="915" y2="836.1" stroke-width="1.35"/>
<line x1="-50" y1="-36.2" x2="915" y2="851.6" stroke-width="1.35"/>
<line x1="-50" y1="-20.7" x2="915" y2="867.1" stroke-width="1.35"/>
<line x1="-50" y1="-5.2" x2="915" y2="882.6" stroke-width="1.35"/>
<line x1="-50" y1="10.3" x2="915" y2="898.1" stroke-width="1.35"/>
<line x1="-50" y1="25.8" x2="915" y2="913.6" stroke-width="1.35"/>
<line x1="-50" y1="41.3" x2="915" y2="929.1" stroke-width="1.35"/>
<line x1="-50" y1="56.8" x2="915" y2="944.6" stroke-width="1.35"/>
<line x1="-50" y1="72.3" x2="915" y2="960.1" stroke-width="1.35"/>
<line x1="-50" y1="87.8" x2="915" y2="975.6" stroke-width="1.35"/>
<line x1="-50" y1="103.3" x2="915" y2="991.1" stroke-width="1.35"/>
<line x1="-50" y1="118.8" x2="915" y2="1006.6" stroke-width="1.35"/>
<line x1="-50" y1="134.3" x2="915" y2="1022.1" stroke-width="1.35"/>
<line x1="-50" y1="149.8" x2="915" y2="1037.6" stroke-width="1.35"/>
<line x1="-50" y1="165.3" x2="915" y2="1053.1" stroke-width="1.35"/>
<line x1="-50" y1="180.8" x2="915" y2="1068.6" stroke-width="1.35"/>
<line x1="-50" y1="196.3" x2="915" y2="1084.1" stroke-width="1.35"/>
<line x1="-50" y1="211.8" x2="915" y2="1099.6" stroke-width="1.35"/>
<line x1="-50" y1="227.3" x2="915" y2="1115.1" stroke-width="1.35"/>
<line x1="-50" y1="242.8" x2="915" y2="1130.6" stroke-width="1.35"/>
<line x1="-50" y1="258.3" x2="915" y2="1146.1" stroke-width="1.35"/>
<line x1="-50" y1="273.8" x2="915" y2="1161.6" stroke-width="1.35"/>
<line x1="-50" y1="289.3" x2="915" y2="1177.1" stroke-width="1.35"/>
<line x1="-50" y1="304.8" x2="915" y2="1192.6" stroke-width="1.35"/>
<line x1="-50" y1="320.3" x2="915" y2="1208.1" stroke-width="1.35"/>
<line x1="-50" y1="335.8" x2="915" y2="1223.6" stroke-width="1.35"/>
<line x1="-50" y1="351.3" x2="915" y2="1239.1" stroke-width="1.35"/>
<line x1="-50" y1="366.8" x2="915" y2="1254.6" stroke-width="1.35"/>
<line x1="-50" y1="382.3" x2="915" y2="1270.1" stroke-width="1.35"/>
<line x1="-50" y1="397.8" x2="915" y2="1285.6" stroke-width="1.35"/>
<line x1="-50" y1="413.3" x2="915" y2="1301.1" stroke-width="1.35"/>
<line x1="-50" y1="428.8" x2="915" y2="1316.6" stroke-width="1.35"/>
<line x1="-50" y1="444.3" x2="915" y2="1332.1" stroke-width="1.35"/>
<line x1="-50" y1="459.8" x2="915" y2="1347.6" stroke-width="1.35"/>
</g>
<g clip-path="url(#c6)">
<line x1="-50" y1="-858.3" x2="915" y2="-38.0" stroke-width="1.35"/>
<line x1="-50" y1="-842.3" x2="915" y2="-22.0" stroke-width="1.35"/>
<line x1="-50" y1="-826.3" x2="915" y2="-6.0" stroke-width="1.35"/>
<line x1="-50" y1="-810.3" x2="915" y2="10.0" stroke-width="1.35"/>
<line x1="-50" y1="-794.3" x2="915" y2="26.0" stroke-width="1.35"/>
<line x1="-50" y1="-778.3" x2="915" y2="42.0" stroke-width="1.35"/>
<line x1="-50" y1="-762.3" x2="915" y2="58.0" stroke-width="1.35"/>
<line x1="-50" y1="-746.3" x2="915" y2="74.0" stroke-width="1.35"/>
<line x1="-50" y1="-730.3" x2="915" y2="90.0" stroke-width="1.35"/>
<line x1="-50" y1="-714.3" x2="915" y2="106.0" stroke-width="1.35"/>
<line x1="-50" y1="-698.3" x2="915" y2="122.0" stroke-width="1.35"/>
<line x1="-50" y1="-682.3" x2="915" y2="138.0" stroke-width="1.35"/>
<line x1="-50" y1="-666.3" x2="915" y2="154.0" stroke-width="1.35"/>
<line x1="-50" y1="-650.3" x2="915" y2="170.0" stroke-width="1.35"/>
<line x1="-50" y1="-634.3" x2="915" y2="186.0" stroke-width="1.35"/>
<line x1="-50" y1="-618.3" x2="915" y2="202.0" stroke-width="1.35"/>
<line x1="-50" y1="-602.3" x2="915" y2="218.0" stroke-width="1.35"/>
<line x1="-50" y1="-586.3" x2="915" y2="234.0" stroke-width="1.35"/>
<line x1="-50" y1="-570.3" x2="915" y2="250.0" stroke-width="1.35"/>
<line x1="-50" y1="-554.3" x2="915" y2="266.0" stroke-width="1.35"/>
<line x1="-50" y1="-538.3" x2="915" y2="282.0" stroke-width="1.35"/>
<line x1="-50" y1="-522.3" x2="915" y2="298.0" stroke-width="1.35"/>
<line x1="-50" y1="-506.3" x2="915" y2="314.0" stroke-width="1.35"/>
<line x1="-50" y1="-490.3" x2="915" y2="330.0" stroke-width="1.35"/>
<line x1="-50" y1="-474.3" x2="915" y2="346.0" stroke-width="1.35"/>
<line x1="-50" y1="-458.3" x2="915" y2="362.0" stroke-width="1.35"/>
<line x1="-50" y1="-442.3" x2="915" y2="378.0" stroke-width="1.35"/>
<line x1="-50" y1="-426.3" x2="915" y2="394.0" stroke-width="1.35"/>
<line x1="-50" y1="-410.3" x2="915" y2="410.0" stroke-width="1.35"/>
<line x1="-50" y1="-394.3" x2="915" y2="426.0" stroke-width="1.35"/>
<line x1="-50" y1="-378.3" x2="915" y2="442.0" stroke-width="1.35"/>
<line x1="-50" y1="-362.3" x2="915" y2="458.0" stroke-width="1.35"/>
<line x1="-50" y1="-346.3" x2="915" y2="474.0" stroke-width="1.35"/>
<line x1="-50" y1="-330.3" x2="915" y2="490.0" stroke-width="1.35"/>
<line x1="-50" y1="-314.3" x2="915" y2="506.0" stroke-width="1.35"/>
<line x1="-50" y1="-298.3" x2="915" y2="522.0" stroke-width="1.35"/>
<line x1="-50" y1="-282.3" x2="915" y2="538.0" stroke-width="1.35"/>
<line x1="-50" y1="-266.3" x2="915" y2="554.0" stroke-width="1.35"/>
<line x1="-50" y1="-250.3" x2="915" y2="570.0" stroke-width="1.35"/>
<line x1="-50" y1="-234.3" x2="915" y2="586.0" stroke-width="1.35"/>
<line x1="-50" y1="-218.3" x2="915" y2="602.0" stroke-width="1.35"/>
<line x1="-50" y1="-202.3" x2="915" y2="618.0" stroke-width="1.35"/>
<line x1="-50" y1="-186.3" x2="915" y2="634.0" stroke-width="1.35"/>
<line x1="-50" y1="-170.3" x2="915" y2="650.0" stroke-width="1.35"/>
<line x1="-50" y1="-154.3" x2="915" y2="666.0" stroke-width="1.35"/>
<line x1="-50" y1="-138.3" x2="915" y2="682.0" stroke-width="1.35"/>
<line x1="-50" y1="-122.3" x2="915" y2="698.0" stroke-width="1.35"/>
<line x1="-50" y1="-106.3" x2="915" y2="714.0" stroke-width="1.35"/>
<line x1="-50" y1="-90.3" x2="915" y2="730.0" stroke-width="1.35"/>
<line x1="-50" y1="-74.3" x2="915" y2="746.0" stroke-width="1.35"/>
<line x1="-50" y1="-58.3" x2="915" y2="762.0" stroke-width="1.35"/>
<line x1="-50" y1="-42.3" x2="915" y2="778.0" stroke-width="1.35"/>
<line x1="-50" y1="-26.3" x2="915" y2="794.0" stroke-width="1.35"/>
<line x1="-50" y1="-10.3" x2="915" y2="810.0" stroke-width="1.35"/>
<line x1="-50" y1="5.7" x2="915" y2="826.0" stroke-width="1.35"/>
<line x1="-50" y1="21.7" x2="915" y2="842.0" stroke-width="1.35"/>
<line x1="-50" y1="37.7" x2="915" y2="858.0" stroke-width="1.35"/>
<line x1="-50" y1="53.7" x2="915" y2="874.0" stroke-width="1.35"/>
<line x1="-50" y1="69.7" x2="915" y2="890.0" stroke-width="1.35"/>
<line x1="-50" y1="85.7" x2="915" y2="906.0" stroke-width="1.35"/>
<line x1="-50" y1="101.7" x2="915" y2="922.0" stroke-width="1.35"/>
<line x1="-50" y1="117.7" x2="915" y2="938.0" stroke-width="1.35"/>
<line x1="-50" y1="133.7" x2="915" y2="954.0" stroke-width="1.35"/>
<line x1="-50" y1="149.7" x2="915" y2="970.0" stroke-width="1.35"/>
<line x1="-50" y1="165.7" x2="915" y2="986.0" stroke-width="1.35"/>
<line x1="-50" y1="181.7" x2="915" y2="1002.0" stroke-width="1.35"/>
<line x1="-50" y1="197.7" x2="915" y2="1018.0" stroke-width="1.35"/>
<line x1="-50" y1="213.7" x2="915" y2="1034.0" stroke-width="1.35"/>
<line x1="-50" y1="229.7" x2="915" y2="1050.0" stroke-width="1.35"/>
<line x1="-50" y1="245.7" x2="915" y2="1066.0" stroke-width="1.35"/>
<line x1="-50" y1="261.7" x2="915" y2="1082.0" stroke-width="1.35"/>
<line x1="-50" y1="277.7" x2="915" y2="1098.0" stroke-width="1.35"/>
<line x1="-50" y1="293.7" x2="915" y2="1114.0" stroke-width="1.35"/>
<line x1="-50" y1="309.7" x2="915" y2="1130.0" stroke-width="1.35"/>
<line x1="-50" y1="325.7" x2="915" y2="1146.0" stroke-width="1.35"/>
<line x1="-50" y1="341.7" x2="915" y2="1162.0" stroke-width="1.35"/>
<line x1="-50" y1="357.7" x2="915" y2="1178.0" stroke-width="1.35"/>
<line x1="-50" y1="373.7" x2="915" y2="1194.0" stroke-width="1.35"/>
<line x1="-50" y1="389.7" x2="915" y2="1210.0" stroke-width="1.35"/>
<line x1="-50" y1="405.7" x2="915" y2="1226.0" stroke-width="1.35"/>
<line x1="-50" y1="421.7" x2="915" y2="1242.0" stroke-width="1.35"/>
<line x1="-50" y1="437.7" x2="915" y2="1258.0" stroke-width="1.35"/>
<line x1="-50" y1="453.7" x2="915" y2="1274.0" stroke-width="1.35"/>
</g>
<line x1="271.8" y1="238.3" x2="303" y2="238.3" stroke-width="2.0"/>
<line x1="375" y1="238" x2="411.6" y2="238" stroke-width="2.0"/>
<line x1="271.8" y1="321.4" x2="411.6" y2="321.4" stroke-width="2.0"/>
<line x1="317.7" y1="252" x2="317.7" y2="321.4" stroke-width="2.0"/>
<line x1="362.2" y1="250" x2="362.2" y2="321.4" stroke-width="2.0"/>
<line x1="317.7" y1="321.4" x2="317.7" y2="363" stroke-width="1.25"/>
<line x1="362.5" y1="321.4" x2="362.5" y2="363" stroke-width="1.25"/>
<line x1="317.7" y1="300.5" x2="362.5" y2="300.5" stroke-width="2.0"/>
<path d="M318.2,301 L323,305.5 L357,305.5 L361.8,301" stroke-width="1.5" fill="none"/>
<line x1="355.2" y1="255" x2="355.2" y2="300.7" stroke-width="1.5"/>
<line x1="318.2" y1="351" x2="362" y2="351" stroke-width="1.25"/>
<path d="M318.2,351.0 L333.2,348.6 L329.4,351.0 L333.2,353.4 Z" fill="#000" stroke="none"/>
<path d="M362.0,351.0 L347.0,353.4 L350.8,351.0 L347.0,348.6 Z" fill="#000" stroke="none"/>
<line x1="243.2" y1="175.5" x2="303.6" y2="236" stroke-width="1.3"/>
<line x1="431.7" y1="178.4" x2="380" y2="230.5" stroke-width="1.3"/>
<line x1="380" y1="230.5" x2="354.6" y2="256.3" stroke-width="2.0"/>
<path d="M256.6,187.6 A118,118 0 0 1 423.4,187.6" stroke-width="1.25" fill="none"/>
<path d="M256.6,187.6 L266.0,174.4 L265.0,179.1 L269.7,178.1 Z" fill="#000" stroke="none"/>
<path d="M423.4,187.6 L410.3,178.1 L415.0,179.1 L414.0,174.4 Z" fill="#000" stroke="none"/>
<path d="M315.7,58 C318,55 322,53.6 326.5,53.5 C331,53.4 335,54.5 339,55.6 C342,56.4 345,56.4 348,55.5 C352,54.3 357,53.8 362,54.1 C366,54.4 369,55 370.7,55.5" stroke-width="2.0" fill="none"/>
<path d="M315.7,58 L315.9,107.7 C316,114 310,116 305.5,119 L304.5,236" stroke-width="2.0" fill="none"/>
<path d="M370.7,55.5 L370.7,107.7 C370.7,114 377,116 378,119 L379.8,230.5" stroke-width="2.0" fill="none"/>
<path d="M316.2,64 C327,66 334,72 333.5,82 L327.6,110 L310.6,210 L304.4,234.2" stroke-width="2.0" fill="none"/>
<line x1="332.5" y1="121" x2="313.8" y2="226.5" stroke-width="2.0"/>
<line x1="371.3" y1="73.7" x2="326.5" y2="224" stroke-width="2.0"/>
<path d="M378.5,122 C375,150 371,185 366,215 C362,236 356,256 341.2,305" stroke-width="2.0" fill="none"/>
<line x1="332.5" y1="121" x2="356" y2="121" stroke-width="1.3" stroke-dasharray="9,3"/>
<line x1="356" y1="121" x2="356" y2="124" stroke-width="1.3"/>
<path d="M303.6,236.5 C307,229 315,226 324.8,224.8 C326,224.6 327,225.5 327.6,226.5 L339.3,247.8 C341,252 339.5,256 335.5,256.3 L325,256.8 C321,256.8 319,253.5 317.2,250.8 Z" stroke-width="2.0" fill="#fff"/>
<line x1="305.3" y1="205.3" x2="378.5" y2="205.3" stroke-width="1.25"/>
<path d="M305.3,205.3 L320.3,202.9 L316.6,205.3 L320.3,207.7 Z" fill="#000" stroke="none"/>
<path d="M378.5,205.3 L363.5,207.7 L367.2,205.3 L363.5,202.9 Z" fill="#000" stroke="none"/>
<line x1="340" y1="37" x2="340" y2="128" stroke-width="1.25"/>
<line x1="340" y1="128" x2="340" y2="327" stroke-width="1.25" stroke-dasharray="24,3,2,3"/>
<text transform="translate(352.86,149.50) scale(0.939,1)" font-size="19.69" style="">2</text>
<text transform="translate(361.58,150.30) skewX(-12) scale(0.620,1)" font-size="19.85" style="font-style:italic;">Φ</text>
<text transform="translate(342.77,202.51) scale(1.126,1)" font-size="18.71" style="font-style:italic;">d</text>
<text transform="translate(331.90,341.86) scale(1.173,1)" font-size="14.14" style="font-style:italic;">d</text>
<text transform="translate(342.71,346.30) scale(0.563,1)" font-size="11.67" style="">1</text>
<text transform="translate(338.30,402.10) scale(0.962,1)" font-size="20.00" style="">b)</text>
<g clip-path="url(#c7)">
<line x1="-50" y1="-914.9" x2="915" y2="-46.4" stroke-width="1.35"/>
<line x1="-50" y1="-898.7" x2="915" y2="-30.2" stroke-width="1.35"/>
<line x1="-50" y1="-882.5" x2="915" y2="-14.0" stroke-width="1.35"/>
<line x1="-50" y1="-866.3" x2="915" y2="2.2" stroke-width="1.35"/>
<line x1="-50" y1="-850.1" x2="915" y2="18.4" stroke-width="1.35"/>
<line x1="-50" y1="-833.9" x2="915" y2="34.6" stroke-width="1.35"/>
<line x1="-50" y1="-817.7" x2="915" y2="50.8" stroke-width="1.35"/>
<line x1="-50" y1="-801.5" x2="915" y2="67.0" stroke-width="1.35"/>
<line x1="-50" y1="-785.3" x2="915" y2="83.2" stroke-width="1.35"/>
<line x1="-50" y1="-769.1" x2="915" y2="99.4" stroke-width="1.35"/>
<line x1="-50" y1="-752.9" x2="915" y2="115.6" stroke-width="1.35"/>
<line x1="-50" y1="-736.7" x2="915" y2="131.8" stroke-width="1.35"/>
<line x1="-50" y1="-720.5" x2="915" y2="148.0" stroke-width="1.35"/>
<line x1="-50" y1="-704.3" x2="915" y2="164.2" stroke-width="1.35"/>
<line x1="-50" y1="-688.1" x2="915" y2="180.4" stroke-width="1.35"/>
<line x1="-50" y1="-671.9" x2="915" y2="196.6" stroke-width="1.35"/>
<line x1="-50" y1="-655.7" x2="915" y2="212.8" stroke-width="1.35"/>
<line x1="-50" y1="-639.5" x2="915" y2="229.0" stroke-width="1.35"/>
<line x1="-50" y1="-623.3" x2="915" y2="245.2" stroke-width="1.35"/>
<line x1="-50" y1="-607.1" x2="915" y2="261.4" stroke-width="1.35"/>
<line x1="-50" y1="-590.9" x2="915" y2="277.6" stroke-width="1.35"/>
<line x1="-50" y1="-574.7" x2="915" y2="293.8" stroke-width="1.35"/>
<line x1="-50" y1="-558.5" x2="915" y2="310.0" stroke-width="1.35"/>
<line x1="-50" y1="-542.3" x2="915" y2="326.2" stroke-width="1.35"/>
<line x1="-50" y1="-526.1" x2="915" y2="342.4" stroke-width="1.35"/>
<line x1="-50" y1="-509.9" x2="915" y2="358.6" stroke-width="1.35"/>
<line x1="-50" y1="-493.7" x2="915" y2="374.8" stroke-width="1.35"/>
<line x1="-50" y1="-477.5" x2="915" y2="391.0" stroke-width="1.35"/>
<line x1="-50" y1="-461.3" x2="915" y2="407.2" stroke-width="1.35"/>
<line x1="-50" y1="-445.1" x2="915" y2="423.4" stroke-width="1.35"/>
<line x1="-50" y1="-428.9" x2="915" y2="439.6" stroke-width="1.35"/>
<line x1="-50" y1="-412.7" x2="915" y2="455.8" stroke-width="1.35"/>
<line x1="-50" y1="-396.5" x2="915" y2="472.0" stroke-width="1.35"/>
<line x1="-50" y1="-380.3" x2="915" y2="488.2" stroke-width="1.35"/>
<line x1="-50" y1="-364.1" x2="915" y2="504.4" stroke-width="1.35"/>
<line x1="-50" y1="-347.9" x2="915" y2="520.6" stroke-width="1.35"/>
<line x1="-50" y1="-331.7" x2="915" y2="536.8" stroke-width="1.35"/>
<line x1="-50" y1="-315.5" x2="915" y2="553.0" stroke-width="1.35"/>
<line x1="-50" y1="-299.3" x2="915" y2="569.2" stroke-width="1.35"/>
<line x1="-50" y1="-283.1" x2="915" y2="585.4" stroke-width="1.35"/>
<line x1="-50" y1="-266.9" x2="915" y2="601.6" stroke-width="1.35"/>
<line x1="-50" y1="-250.7" x2="915" y2="617.8" stroke-width="1.35"/>
<line x1="-50" y1="-234.5" x2="915" y2="634.0" stroke-width="1.35"/>
<line x1="-50" y1="-218.3" x2="915" y2="650.2" stroke-width="1.35"/>
<line x1="-50" y1="-202.1" x2="915" y2="666.4" stroke-width="1.35"/>
<line x1="-50" y1="-185.9" x2="915" y2="682.6" stroke-width="1.35"/>
<line x1="-50" y1="-169.7" x2="915" y2="698.8" stroke-width="1.35"/>
<line x1="-50" y1="-153.5" x2="915" y2="715.0" stroke-width="1.35"/>
<line x1="-50" y1="-137.3" x2="915" y2="731.2" stroke-width="1.35"/>
<line x1="-50" y1="-121.1" x2="915" y2="747.4" stroke-width="1.35"/>
<line x1="-50" y1="-104.9" x2="915" y2="763.6" stroke-width="1.35"/>
<line x1="-50" y1="-88.7" x2="915" y2="779.8" stroke-width="1.35"/>
<line x1="-50" y1="-72.5" x2="915" y2="796.0" stroke-width="1.35"/>
<line x1="-50" y1="-56.3" x2="915" y2="812.2" stroke-width="1.35"/>
<line x1="-50" y1="-40.1" x2="915" y2="828.4" stroke-width="1.35"/>
<line x1="-50" y1="-23.9" x2="915" y2="844.6" stroke-width="1.35"/>
<line x1="-50" y1="-7.7" x2="915" y2="860.8" stroke-width="1.35"/>
<line x1="-50" y1="8.5" x2="915" y2="877.0" stroke-width="1.35"/>
<line x1="-50" y1="24.7" x2="915" y2="893.2" stroke-width="1.35"/>
<line x1="-50" y1="40.9" x2="915" y2="909.4" stroke-width="1.35"/>
<line x1="-50" y1="57.1" x2="915" y2="925.6" stroke-width="1.35"/>
<line x1="-50" y1="73.3" x2="915" y2="941.8" stroke-width="1.35"/>
<line x1="-50" y1="89.5" x2="915" y2="958.0" stroke-width="1.35"/>
<line x1="-50" y1="105.7" x2="915" y2="974.2" stroke-width="1.35"/>
<line x1="-50" y1="121.9" x2="915" y2="990.4" stroke-width="1.35"/>
<line x1="-50" y1="138.1" x2="915" y2="1006.6" stroke-width="1.35"/>
<line x1="-50" y1="154.3" x2="915" y2="1022.8" stroke-width="1.35"/>
<line x1="-50" y1="170.5" x2="915" y2="1039.0" stroke-width="1.35"/>
<line x1="-50" y1="186.7" x2="915" y2="1055.2" stroke-width="1.35"/>
<line x1="-50" y1="202.9" x2="915" y2="1071.4" stroke-width="1.35"/>
<line x1="-50" y1="219.1" x2="915" y2="1087.6" stroke-width="1.35"/>
<line x1="-50" y1="235.3" x2="915" y2="1103.8" stroke-width="1.35"/>
<line x1="-50" y1="251.5" x2="915" y2="1120.0" stroke-width="1.35"/>
<line x1="-50" y1="267.7" x2="915" y2="1136.2" stroke-width="1.35"/>
<line x1="-50" y1="283.9" x2="915" y2="1152.4" stroke-width="1.35"/>
<line x1="-50" y1="300.1" x2="915" y2="1168.6" stroke-width="1.35"/>
<line x1="-50" y1="316.3" x2="915" y2="1184.8" stroke-width="1.35"/>
<line x1="-50" y1="332.5" x2="915" y2="1201.0" stroke-width="1.35"/>
<line x1="-50" y1="348.7" x2="915" y2="1217.2" stroke-width="1.35"/>
<line x1="-50" y1="364.9" x2="915" y2="1233.4" stroke-width="1.35"/>
<line x1="-50" y1="381.1" x2="915" y2="1249.6" stroke-width="1.35"/>
<line x1="-50" y1="397.3" x2="915" y2="1265.8" stroke-width="1.35"/>
<line x1="-50" y1="413.5" x2="915" y2="1282.0" stroke-width="1.35"/>
<line x1="-50" y1="429.7" x2="915" y2="1298.2" stroke-width="1.35"/>
<line x1="-50" y1="445.9" x2="915" y2="1314.4" stroke-width="1.35"/>
</g>
<g clip-path="url(#c8)">
<line x1="-50" y1="-933.0" x2="915" y2="-45.2" stroke-width="1.35"/>
<line x1="-50" y1="-917.8" x2="915" y2="-30.0" stroke-width="1.35"/>
<line x1="-50" y1="-902.6" x2="915" y2="-14.8" stroke-width="1.35"/>
<line x1="-50" y1="-887.4" x2="915" y2="0.4" stroke-width="1.35"/>
<line x1="-50" y1="-872.2" x2="915" y2="15.6" stroke-width="1.35"/>
<line x1="-50" y1="-857.0" x2="915" y2="30.8" stroke-width="1.35"/>
<line x1="-50" y1="-841.8" x2="915" y2="46.0" stroke-width="1.35"/>
<line x1="-50" y1="-826.6" x2="915" y2="61.2" stroke-width="1.35"/>
<line x1="-50" y1="-811.4" x2="915" y2="76.4" stroke-width="1.35"/>
<line x1="-50" y1="-796.2" x2="915" y2="91.6" stroke-width="1.35"/>
<line x1="-50" y1="-781.0" x2="915" y2="106.8" stroke-width="1.35"/>
<line x1="-50" y1="-765.8" x2="915" y2="122.0" stroke-width="1.35"/>
<line x1="-50" y1="-750.6" x2="915" y2="137.2" stroke-width="1.35"/>
<line x1="-50" y1="-735.4" x2="915" y2="152.4" stroke-width="1.35"/>
<line x1="-50" y1="-720.2" x2="915" y2="167.6" stroke-width="1.35"/>
<line x1="-50" y1="-705.0" x2="915" y2="182.8" stroke-width="1.35"/>
<line x1="-50" y1="-689.8" x2="915" y2="198.0" stroke-width="1.35"/>
<line x1="-50" y1="-674.6" x2="915" y2="213.2" stroke-width="1.35"/>
<line x1="-50" y1="-659.4" x2="915" y2="228.4" stroke-width="1.35"/>
<line x1="-50" y1="-644.2" x2="915" y2="243.6" stroke-width="1.35"/>
<line x1="-50" y1="-629.0" x2="915" y2="258.8" stroke-width="1.35"/>
<line x1="-50" y1="-613.8" x2="915" y2="274.0" stroke-width="1.35"/>
<line x1="-50" y1="-598.6" x2="915" y2="289.2" stroke-width="1.35"/>
<line x1="-50" y1="-583.4" x2="915" y2="304.4" stroke-width="1.35"/>
<line x1="-50" y1="-568.2" x2="915" y2="319.6" stroke-width="1.35"/>
<line x1="-50" y1="-553.0" x2="915" y2="334.8" stroke-width="1.35"/>
<line x1="-50" y1="-537.8" x2="915" y2="350.0" stroke-width="1.35"/>
<line x1="-50" y1="-522.6" x2="915" y2="365.2" stroke-width="1.35"/>
<line x1="-50" y1="-507.4" x2="915" y2="380.4" stroke-width="1.35"/>
<line x1="-50" y1="-492.2" x2="915" y2="395.6" stroke-width="1.35"/>
<line x1="-50" y1="-477.0" x2="915" y2="410.8" stroke-width="1.35"/>
<line x1="-50" y1="-461.8" x2="915" y2="426.0" stroke-width="1.35"/>
<line x1="-50" y1="-446.6" x2="915" y2="441.2" stroke-width="1.35"/>
<line x1="-50" y1="-431.4" x2="915" y2="456.4" stroke-width="1.35"/>
<line x1="-50" y1="-416.2" x2="915" y2="471.6" stroke-width="1.35"/>
<line x1="-50" y1="-401.0" x2="915" y2="486.8" stroke-width="1.35"/>
<line x1="-50" y1="-385.8" x2="915" y2="502.0" stroke-width="1.35"/>
<line x1="-50" y1="-370.6" x2="915" y2="517.2" stroke-width="1.35"/>
<line x1="-50" y1="-355.4" x2="915" y2="532.4" stroke-width="1.35"/>
<line x1="-50" y1="-340.2" x2="915" y2="547.6" stroke-width="1.35"/>
<line x1="-50" y1="-325.0" x2="915" y2="562.8" stroke-width="1.35"/>
<line x1="-50" y1="-309.8" x2="915" y2="578.0" stroke-width="1.35"/>
<line x1="-50" y1="-294.6" x2="915" y2="593.2" stroke-width="1.35"/>
<line x1="-50" y1="-279.4" x2="915" y2="608.4" stroke-width="1.35"/>
<line x1="-50" y1="-264.2" x2="915" y2="623.6" stroke-width="1.35"/>
<line x1="-50" y1="-249.0" x2="915" y2="638.8" stroke-width="1.35"/>
<line x1="-50" y1="-233.8" x2="915" y2="654.0" stroke-width="1.35"/>
<line x1="-50" y1="-218.6" x2="915" y2="669.2" stroke-width="1.35"/>
<line x1="-50" y1="-203.4" x2="915" y2="684.4" stroke-width="1.35"/>
<line x1="-50" y1="-188.2" x2="915" y2="699.6" stroke-width="1.35"/>
<line x1="-50" y1="-173.0" x2="915" y2="714.8" stroke-width="1.35"/>
<line x1="-50" y1="-157.8" x2="915" y2="730.0" stroke-width="1.35"/>
<line x1="-50" y1="-142.6" x2="915" y2="745.2" stroke-width="1.35"/>
<line x1="-50" y1="-127.4" x2="915" y2="760.4" stroke-width="1.35"/>
<line x1="-50" y1="-112.2" x2="915" y2="775.6" stroke-width="1.35"/>
<line x1="-50" y1="-97.0" x2="915" y2="790.8" stroke-width="1.35"/>
<line x1="-50" y1="-81.8" x2="915" y2="806.0" stroke-width="1.35"/>
<line x1="-50" y1="-66.6" x2="915" y2="821.2" stroke-width="1.35"/>
<line x1="-50" y1="-51.4" x2="915" y2="836.4" stroke-width="1.35"/>
<line x1="-50" y1="-36.2" x2="915" y2="851.6" stroke-width="1.35"/>
<line x1="-50" y1="-21.0" x2="915" y2="866.8" stroke-width="1.35"/>
<line x1="-50" y1="-5.8" x2="915" y2="882.0" stroke-width="1.35"/>
<line x1="-50" y1="9.4" x2="915" y2="897.2" stroke-width="1.35"/>
<line x1="-50" y1="24.6" x2="915" y2="912.4" stroke-width="1.35"/>
<line x1="-50" y1="39.8" x2="915" y2="927.6" stroke-width="1.35"/>
<line x1="-50" y1="55.0" x2="915" y2="942.8" stroke-width="1.35"/>
<line x1="-50" y1="70.2" x2="915" y2="958.0" stroke-width="1.35"/>
<line x1="-50" y1="85.4" x2="915" y2="973.2" stroke-width="1.35"/>
<line x1="-50" y1="100.6" x2="915" y2="988.4" stroke-width="1.35"/>
<line x1="-50" y1="115.8" x2="915" y2="1003.6" stroke-width="1.35"/>
<line x1="-50" y1="131.0" x2="915" y2="1018.8" stroke-width="1.35"/>
<line x1="-50" y1="146.2" x2="915" y2="1034.0" stroke-width="1.35"/>
<line x1="-50" y1="161.4" x2="915" y2="1049.2" stroke-width="1.35"/>
<line x1="-50" y1="176.6" x2="915" y2="1064.4" stroke-width="1.35"/>
<line x1="-50" y1="191.8" x2="915" y2="1079.6" stroke-width="1.35"/>
<line x1="-50" y1="207.0" x2="915" y2="1094.8" stroke-width="1.35"/>
<line x1="-50" y1="222.2" x2="915" y2="1110.0" stroke-width="1.35"/>
<line x1="-50" y1="237.4" x2="915" y2="1125.2" stroke-width="1.35"/>
<line x1="-50" y1="252.6" x2="915" y2="1140.4" stroke-width="1.35"/>
<line x1="-50" y1="267.8" x2="915" y2="1155.6" stroke-width="1.35"/>
<line x1="-50" y1="283.0" x2="915" y2="1170.8" stroke-width="1.35"/>
<line x1="-50" y1="298.2" x2="915" y2="1186.0" stroke-width="1.35"/>
<line x1="-50" y1="313.4" x2="915" y2="1201.2" stroke-width="1.35"/>
<line x1="-50" y1="328.6" x2="915" y2="1216.4" stroke-width="1.35"/>
<line x1="-50" y1="343.8" x2="915" y2="1231.6" stroke-width="1.35"/>
<line x1="-50" y1="359.0" x2="915" y2="1246.8" stroke-width="1.35"/>
<line x1="-50" y1="374.2" x2="915" y2="1262.0" stroke-width="1.35"/>
<line x1="-50" y1="389.4" x2="915" y2="1277.2" stroke-width="1.35"/>
<line x1="-50" y1="404.6" x2="915" y2="1292.4" stroke-width="1.35"/>
<line x1="-50" y1="419.8" x2="915" y2="1307.6" stroke-width="1.35"/>
<line x1="-50" y1="435.0" x2="915" y2="1322.8" stroke-width="1.35"/>
<line x1="-50" y1="450.2" x2="915" y2="1338.0" stroke-width="1.35"/>
</g>
<line x1="477.5" y1="237" x2="519.3" y2="237" stroke-width="2.0"/>
<line x1="586.4" y1="235.5" x2="630.3" y2="235.5" stroke-width="2.0"/>
<line x1="477.5" y1="322.6" x2="630.3" y2="322.6" stroke-width="2.0"/>
<line x1="529.3" y1="254" x2="529.3" y2="322.6" stroke-width="2.0"/>
<line x1="573.4" y1="258" x2="573.4" y2="322.6" stroke-width="2.0"/>
<line x1="452.4" y1="107.5" x2="529.3" y2="254.5" stroke-width="1.3"/>
<line x1="659.5" y1="107.5" x2="573.4" y2="259.5" stroke-width="1.3"/>
<path d="M461.0,124.0 A195.5,195.5 0 0 1 648.5,127.0" stroke-width="1.25" fill="none"/>
<path d="M461.0,124.0 L474.0,114.2 L471.6,118.4 L476.4,118.8 Z" fill="#000" stroke="none"/>
<path d="M648.5,127.0 L633.3,121.3 L638.0,121.0 L635.8,116.8 Z" fill="#000" stroke="none"/>
<path d="M516.8,58.5 C521,56 524,54.9 528,54.9 C533,54.9 537,56 541,58 C545,60 550,60.4 554,60.4 C560,60.4 565,59 570,57.8 C576,56.5 583,55.9 590.1,55.9" stroke-width="2.0" fill="none"/>
<path d="M516.8,58.5 L516.8,142 Q516.8,150 508.7,150.1" stroke-width="2.0" fill="none"/>
<path d="M590.1,55.9 L590.1,142 Q590.1,150 597.6,150.1" stroke-width="2.0" fill="none"/>
<line x1="502" y1="150.1" x2="604.7" y2="150.1" stroke-width="2.0"/>
<line x1="502" y1="150.1" x2="502" y2="196" stroke-width="2.0"/>
<line x1="604.7" y1="150.1" x2="604.7" y2="198" stroke-width="2.0"/>
<line x1="502.5" y1="175.3" x2="604.2" y2="175.3" stroke-width="1.25"/>
<path d="M502.5,175.3 L517.5,172.9 L513.8,175.3 L517.5,177.7 Z" fill="#000" stroke="none"/>
<path d="M604.2,175.3 L589.2,177.7 L593.0,175.3 L589.2,172.9 Z" fill="#000" stroke="none"/>
<path d="M501.4,196.2 L509.2,183 Q509.9,181.3 510.7,183.5 L511.2,203.3 L512.9,203.3 L520.5,184 Q523.1,179.8 526,184.3 L527.3,203.5 L532.8,203.5 L549,183.5 Q551.2,180.2 552.8,183.5 L552.8,203 L557.8,203 L576.5,183.8 Q578.5,180.8 581.6,186 L582,202.8 L586.7,202.8 L597.5,183.5 Q600.3,179.8 603.6,185 L601.5,202.8" stroke-width="2.0" fill="none"/>
<line x1="511.2" y1="203.3" x2="536.1" y2="266.5" stroke-width="1.7"/>
<line x1="512.9" y1="203.3" x2="539" y2="266.5" stroke-width="1.7"/>
<line x1="511.2" y1="203.3" x2="512.9" y2="203.3" stroke-width="1.7"/>
<line x1="527.3" y1="203.5" x2="541.9" y2="266.5" stroke-width="1.7"/>
<line x1="532.8" y1="203.5" x2="544.8" y2="266.5" stroke-width="1.7"/>
<line x1="527.3" y1="203.5" x2="532.8" y2="203.5" stroke-width="1.7"/>
<line x1="552.8" y1="203" x2="552.6" y2="266.5" stroke-width="1.7"/>
<line x1="557.8" y1="203" x2="555.5" y2="266.5" stroke-width="1.7"/>
<line x1="552.8" y1="203" x2="557.8" y2="203" stroke-width="1.7"/>
<line x1="582" y1="202.8" x2="561.3" y2="266.5" stroke-width="1.7"/>
<line x1="586.7" y1="202.8" x2="564.3" y2="266.5" stroke-width="1.7"/>
<line x1="582" y1="202.8" x2="586.7" y2="202.8" stroke-width="1.7"/>
<line x1="600.5" y1="202.8" x2="567.2" y2="266.5" stroke-width="1.7"/>
<line x1="604.5" y1="202.6" x2="570.1" y2="266.5" stroke-width="1.7"/>
<line x1="600.5" y1="202.8" x2="604.5" y2="202.6" stroke-width="1.7"/>
<line x1="535.1" y1="267" x2="570.1" y2="267" stroke-width="2.0"/>
<line x1="552.7" y1="43" x2="552.7" y2="128" stroke-width="1.25"/>
<line x1="552.7" y1="128" x2="552.7" y2="344.5" stroke-width="1.25" stroke-dasharray="24,3,2,3"/>
<text transform="translate(554.83,96.30) scale(0.978,1)" font-size="19.69" style="">2</text>
<text transform="translate(564.25,96.70) skewX(-12) scale(0.620,1)" font-size="20.92" style="font-style:italic;">Φ</text>
<text transform="translate(555.46,172.11) scale(1.146,1)" font-size="18.57" style="font-style:italic;">d</text>
<text transform="translate(542.46,401.92) scale(1.081,1)" font-size="19.44" style="">c)</text>
<g clip-path="url(#c9)">
<line x1="-50" y1="-960.0" x2="915" y2="-33.6" stroke-width="1.35"/>
<line x1="-50" y1="-940.5" x2="915" y2="-14.1" stroke-width="1.35"/>
<line x1="-50" y1="-921.0" x2="915" y2="5.4" stroke-width="1.35"/>
<line x1="-50" y1="-901.5" x2="915" y2="24.9" stroke-width="1.35"/>
<line x1="-50" y1="-882.0" x2="915" y2="44.4" stroke-width="1.35"/>
<line x1="-50" y1="-862.5" x2="915" y2="63.9" stroke-width="1.35"/>
<line x1="-50" y1="-843.0" x2="915" y2="83.4" stroke-width="1.35"/>
<line x1="-50" y1="-823.5" x2="915" y2="102.9" stroke-width="1.35"/>
<line x1="-50" y1="-804.0" x2="915" y2="122.4" stroke-width="1.35"/>
<line x1="-50" y1="-784.5" x2="915" y2="141.9" stroke-width="1.35"/>
<line x1="-50" y1="-765.0" x2="915" y2="161.4" stroke-width="1.35"/>
<line x1="-50" y1="-745.5" x2="915" y2="180.9" stroke-width="1.35"/>
<line x1="-50" y1="-726.0" x2="915" y2="200.4" stroke-width="1.35"/>
<line x1="-50" y1="-706.5" x2="915" y2="219.9" stroke-width="1.35"/>
<line x1="-50" y1="-687.0" x2="915" y2="239.4" stroke-width="1.35"/>
<line x1="-50" y1="-667.5" x2="915" y2="258.9" stroke-width="1.35"/>
<line x1="-50" y1="-648.0" x2="915" y2="278.4" stroke-width="1.35"/>
<line x1="-50" y1="-628.5" x2="915" y2="297.9" stroke-width="1.35"/>
<line x1="-50" y1="-609.0" x2="915" y2="317.4" stroke-width="1.35"/>
<line x1="-50" y1="-589.5" x2="915" y2="336.9" stroke-width="1.35"/>
<line x1="-50" y1="-570.0" x2="915" y2="356.4" stroke-width="1.35"/>
<line x1="-50" y1="-550.5" x2="915" y2="375.9" stroke-width="1.35"/>
<line x1="-50" y1="-531.0" x2="915" y2="395.4" stroke-width="1.35"/>
<line x1="-50" y1="-511.5" x2="915" y2="414.9" stroke-width="1.35"/>
<line x1="-50" y1="-492.0" x2="915" y2="434.4" stroke-width="1.35"/>
<line x1="-50" y1="-472.5" x2="915" y2="453.9" stroke-width="1.35"/>
<line x1="-50" y1="-453.0" x2="915" y2="473.4" stroke-width="1.35"/>
<line x1="-50" y1="-433.5" x2="915" y2="492.9" stroke-width="1.35"/>
<line x1="-50" y1="-414.0" x2="915" y2="512.4" stroke-width="1.35"/>
<line x1="-50" y1="-394.5" x2="915" y2="531.9" stroke-width="1.35"/>
<line x1="-50" y1="-375.0" x2="915" y2="551.4" stroke-width="1.35"/>
<line x1="-50" y1="-355.5" x2="915" y2="570.9" stroke-width="1.35"/>
<line x1="-50" y1="-336.0" x2="915" y2="590.4" stroke-width="1.35"/>
<line x1="-50" y1="-316.5" x2="915" y2="609.9" stroke-width="1.35"/>
<line x1="-50" y1="-297.0" x2="915" y2="629.4" stroke-width="1.35"/>
<line x1="-50" y1="-277.5" x2="915" y2="648.9" stroke-width="1.35"/>
<line x1="-50" y1="-258.0" x2="915" y2="668.4" stroke-width="1.35"/>
<line x1="-50" y1="-238.5" x2="915" y2="687.9" stroke-width="1.35"/>
<line x1="-50" y1="-219.0" x2="915" y2="707.4" stroke-width="1.35"/>
<line x1="-50" y1="-199.5" x2="915" y2="726.9" stroke-width="1.35"/>
<line x1="-50" y1="-180.0" x2="915" y2="746.4" stroke-width="1.35"/>
<line x1="-50" y1="-160.5" x2="915" y2="765.9" stroke-width="1.35"/>
<line x1="-50" y1="-141.0" x2="915" y2="785.4" stroke-width="1.35"/>
<line x1="-50" y1="-121.5" x2="915" y2="804.9" stroke-width="1.35"/>
<line x1="-50" y1="-102.0" x2="915" y2="824.4" stroke-width="1.35"/>
<line x1="-50" y1="-82.5" x2="915" y2="843.9" stroke-width="1.35"/>
<line x1="-50" y1="-63.0" x2="915" y2="863.4" stroke-width="1.35"/>
<line x1="-50" y1="-43.5" x2="915" y2="882.9" stroke-width="1.35"/>
<line x1="-50" y1="-24.0" x2="915" y2="902.4" stroke-width="1.35"/>
<line x1="-50" y1="-4.5" x2="915" y2="921.9" stroke-width="1.35"/>
<line x1="-50" y1="15.0" x2="915" y2="941.4" stroke-width="1.35"/>
<line x1="-50" y1="34.5" x2="915" y2="960.9" stroke-width="1.35"/>
<line x1="-50" y1="54.0" x2="915" y2="980.4" stroke-width="1.35"/>
<line x1="-50" y1="73.5" x2="915" y2="999.9" stroke-width="1.35"/>
<line x1="-50" y1="93.0" x2="915" y2="1019.4" stroke-width="1.35"/>
<line x1="-50" y1="112.5" x2="915" y2="1038.9" stroke-width="1.35"/>
<line x1="-50" y1="132.0" x2="915" y2="1058.4" stroke-width="1.35"/>
<line x1="-50" y1="151.5" x2="915" y2="1077.9" stroke-width="1.35"/>
<line x1="-50" y1="171.0" x2="915" y2="1097.4" stroke-width="1.35"/>
<line x1="-50" y1="190.5" x2="915" y2="1116.9" stroke-width="1.35"/>
<line x1="-50" y1="210.0" x2="915" y2="1136.4" stroke-width="1.35"/>
<line x1="-50" y1="229.5" x2="915" y2="1155.9" stroke-width="1.35"/>
<line x1="-50" y1="249.0" x2="915" y2="1175.4" stroke-width="1.35"/>
<line x1="-50" y1="268.5" x2="915" y2="1194.9" stroke-width="1.35"/>
<line x1="-50" y1="288.0" x2="915" y2="1214.4" stroke-width="1.35"/>
<line x1="-50" y1="307.5" x2="915" y2="1233.9" stroke-width="1.35"/>
<line x1="-50" y1="327.0" x2="915" y2="1253.4" stroke-width="1.35"/>
<line x1="-50" y1="346.5" x2="915" y2="1272.9" stroke-width="1.35"/>
<line x1="-50" y1="366.0" x2="915" y2="1292.4" stroke-width="1.35"/>
<line x1="-50" y1="385.5" x2="915" y2="1311.9" stroke-width="1.35"/>
<line x1="-50" y1="405.0" x2="915" y2="1331.4" stroke-width="1.35"/>
<line x1="-50" y1="424.5" x2="915" y2="1350.9" stroke-width="1.35"/>
<line x1="-50" y1="444.0" x2="915" y2="1370.4" stroke-width="1.35"/>
</g>
<g clip-path="url(#c10)">
<line x1="-50" y1="-1052.0" x2="915" y2="-38.7" stroke-width="1.35"/>
<line x1="-50" y1="-1031.5" x2="915" y2="-18.2" stroke-width="1.35"/>
<line x1="-50" y1="-1011.0" x2="915" y2="2.3" stroke-width="1.35"/>
<line x1="-50" y1="-990.5" x2="915" y2="22.8" stroke-width="1.35"/>
<line x1="-50" y1="-970.0" x2="915" y2="43.3" stroke-width="1.35"/>
<line x1="-50" y1="-949.5" x2="915" y2="63.8" stroke-width="1.35"/>
<line x1="-50" y1="-929.0" x2="915" y2="84.3" stroke-width="1.35"/>
<line x1="-50" y1="-908.5" x2="915" y2="104.8" stroke-width="1.35"/>
<line x1="-50" y1="-888.0" x2="915" y2="125.3" stroke-width="1.35"/>
<line x1="-50" y1="-867.5" x2="915" y2="145.8" stroke-width="1.35"/>
<line x1="-50" y1="-847.0" x2="915" y2="166.3" stroke-width="1.35"/>
<line x1="-50" y1="-826.5" x2="915" y2="186.8" stroke-width="1.35"/>
<line x1="-50" y1="-806.0" x2="915" y2="207.3" stroke-width="1.35"/>
<line x1="-50" y1="-785.5" x2="915" y2="227.8" stroke-width="1.35"/>
<line x1="-50" y1="-765.0" x2="915" y2="248.3" stroke-width="1.35"/>
<line x1="-50" y1="-744.5" x2="915" y2="268.8" stroke-width="1.35"/>
<line x1="-50" y1="-724.0" x2="915" y2="289.3" stroke-width="1.35"/>
<line x1="-50" y1="-703.5" x2="915" y2="309.8" stroke-width="1.35"/>
<line x1="-50" y1="-683.0" x2="915" y2="330.3" stroke-width="1.35"/>
<line x1="-50" y1="-662.5" x2="915" y2="350.8" stroke-width="1.35"/>
<line x1="-50" y1="-642.0" x2="915" y2="371.3" stroke-width="1.35"/>
<line x1="-50" y1="-621.5" x2="915" y2="391.8" stroke-width="1.35"/>
<line x1="-50" y1="-601.0" x2="915" y2="412.3" stroke-width="1.35"/>
<line x1="-50" y1="-580.5" x2="915" y2="432.8" stroke-width="1.35"/>
<line x1="-50" y1="-560.0" x2="915" y2="453.3" stroke-width="1.35"/>
<line x1="-50" y1="-539.5" x2="915" y2="473.8" stroke-width="1.35"/>
<line x1="-50" y1="-519.0" x2="915" y2="494.3" stroke-width="1.35"/>
<line x1="-50" y1="-498.5" x2="915" y2="514.8" stroke-width="1.35"/>
<line x1="-50" y1="-478.0" x2="915" y2="535.3" stroke-width="1.35"/>
<line x1="-50" y1="-457.5" x2="915" y2="555.8" stroke-width="1.35"/>
<line x1="-50" y1="-437.0" x2="915" y2="576.3" stroke-width="1.35"/>
<line x1="-50" y1="-416.5" x2="915" y2="596.8" stroke-width="1.35"/>
<line x1="-50" y1="-396.0" x2="915" y2="617.3" stroke-width="1.35"/>
<line x1="-50" y1="-375.5" x2="915" y2="637.8" stroke-width="1.35"/>
<line x1="-50" y1="-355.0" x2="915" y2="658.3" stroke-width="1.35"/>
<line x1="-50" y1="-334.5" x2="915" y2="678.8" stroke-width="1.35"/>
<line x1="-50" y1="-314.0" x2="915" y2="699.3" stroke-width="1.35"/>
<line x1="-50" y1="-293.5" x2="915" y2="719.8" stroke-width="1.35"/>
<line x1="-50" y1="-273.0" x2="915" y2="740.3" stroke-width="1.35"/>
<line x1="-50" y1="-252.5" x2="915" y2="760.8" stroke-width="1.35"/>
<line x1="-50" y1="-232.0" x2="915" y2="781.3" stroke-width="1.35"/>
<line x1="-50" y1="-211.5" x2="915" y2="801.8" stroke-width="1.35"/>
<line x1="-50" y1="-191.0" x2="915" y2="822.3" stroke-width="1.35"/>
<line x1="-50" y1="-170.5" x2="915" y2="842.8" stroke-width="1.35"/>
<line x1="-50" y1="-150.0" x2="915" y2="863.3" stroke-width="1.35"/>
<line x1="-50" y1="-129.5" x2="915" y2="883.8" stroke-width="1.35"/>
<line x1="-50" y1="-109.0" x2="915" y2="904.3" stroke-width="1.35"/>
<line x1="-50" y1="-88.5" x2="915" y2="924.8" stroke-width="1.35"/>
<line x1="-50" y1="-68.0" x2="915" y2="945.3" stroke-width="1.35"/>
<line x1="-50" y1="-47.5" x2="915" y2="965.8" stroke-width="1.35"/>
<line x1="-50" y1="-27.0" x2="915" y2="986.3" stroke-width="1.35"/>
<line x1="-50" y1="-6.5" x2="915" y2="1006.8" stroke-width="1.35"/>
<line x1="-50" y1="14.0" x2="915" y2="1027.3" stroke-width="1.35"/>
<line x1="-50" y1="34.5" x2="915" y2="1047.8" stroke-width="1.35"/>
<line x1="-50" y1="55.0" x2="915" y2="1068.3" stroke-width="1.35"/>
<line x1="-50" y1="75.5" x2="915" y2="1088.8" stroke-width="1.35"/>
<line x1="-50" y1="96.0" x2="915" y2="1109.3" stroke-width="1.35"/>
<line x1="-50" y1="116.5" x2="915" y2="1129.8" stroke-width="1.35"/>
<line x1="-50" y1="137.0" x2="915" y2="1150.3" stroke-width="1.35"/>
<line x1="-50" y1="157.5" x2="915" y2="1170.8" stroke-width="1.35"/>
<line x1="-50" y1="178.0" x2="915" y2="1191.3" stroke-width="1.35"/>
<line x1="-50" y1="198.5" x2="915" y2="1211.8" stroke-width="1.35"/>
<line x1="-50" y1="219.0" x2="915" y2="1232.3" stroke-width="1.35"/>
<line x1="-50" y1="239.5" x2="915" y2="1252.8" stroke-width="1.35"/>
<line x1="-50" y1="260.0" x2="915" y2="1273.3" stroke-width="1.35"/>
<line x1="-50" y1="280.5" x2="915" y2="1293.8" stroke-width="1.35"/>
<line x1="-50" y1="301.0" x2="915" y2="1314.3" stroke-width="1.35"/>
<line x1="-50" y1="321.5" x2="915" y2="1334.8" stroke-width="1.35"/>
<line x1="-50" y1="342.0" x2="915" y2="1355.3" stroke-width="1.35"/>
<line x1="-50" y1="362.5" x2="915" y2="1375.8" stroke-width="1.35"/>
<line x1="-50" y1="383.0" x2="915" y2="1396.3" stroke-width="1.35"/>
<line x1="-50" y1="403.5" x2="915" y2="1416.8" stroke-width="1.35"/>
<line x1="-50" y1="424.0" x2="915" y2="1437.3" stroke-width="1.35"/>
<line x1="-50" y1="444.5" x2="915" y2="1457.8" stroke-width="1.35"/>
</g>
<line x1="688.6" y1="104.1" x2="738.9" y2="104.1" stroke-width="2.0"/>
<line x1="803.9" y1="104.1" x2="857.2" y2="104.1" stroke-width="2.0"/>
<path d="M688.6,151.9 L713,151.9 Q719.5,152 720.2,160.4" stroke-width="2.0" fill="none"/>
<path d="M857.2,151.9 L832.5,151.9 Q826,152 825.7,160.4" stroke-width="2.0" fill="none"/>
<path d="M733.2,27 Q733.2,24.3 736,24.2 C745,23.3 755,25.5 766.5,25.9 C778,26.2 795,25.3 806,26.3 Q808.6,26.7 808.6,29 L808.6,41.5 Q808.6,44 806,44 L736,44 Q733.2,44 733.2,41.5 Z" stroke-width="2.0" fill="none"/>
<line x1="738.8" y1="44" x2="738.8" y2="161" stroke-width="2.0"/>
<line x1="803.5" y1="44" x2="803.5" y2="161" stroke-width="2.0"/>
<path d="M738.9,140.5 L803.9,140.5 M740.3,140.5 L746.9,147 L796.6,147 L802.7,140.5" stroke-width="1.6" fill="none"/>
<line x1="746.9" y1="147" x2="746.9" y2="161" stroke-width="1.6"/>
<line x1="796.6" y1="147" x2="796.6" y2="161" stroke-width="1.6"/>
<line x1="739.4" y1="119" x2="803.4" y2="119" stroke-width="1.25"/>
<path d="M739.4,119.0 L754.4,116.6 L750.6,119.0 L754.4,121.4 Z" fill="#000" stroke="none"/>
<path d="M803.4,119.0 L788.4,121.4 L792.1,119.0 L788.4,116.6 Z" fill="#000" stroke="none"/>
<line x1="708.5" y1="161" x2="746.1" y2="161" stroke-width="2.0"/>
<line x1="710.3" y1="164.3" x2="746.1" y2="164.3" stroke-width="1.4"/>
<path d="M708.5,161 Q712,180 715.7,194.3 L715.7,241.5 L712.9,275.3" stroke-width="2.0" fill="none"/>
<path d="M832.8,160.5 L828.6,186 L827.7,192.5 L825.7,239.5 L832.9,274" stroke-width="2.0" fill="none"/>
<line x1="715.8" y1="194.3" x2="826" y2="193.5" stroke-width="2.0"/>
<line x1="716" y1="241.5" x2="825.8" y2="241.5" stroke-width="2.0"/>
<line x1="712.9" y1="275.3" x2="747.8" y2="275.5" stroke-width="2.0"/>
<line x1="800.8" y1="274" x2="832.9" y2="274" stroke-width="2.0"/>
<line x1="707.5" y1="161" x2="707.5" y2="239.7" stroke-width="1.25"/>
<line x1="833.8" y1="178" x2="833.8" y2="238.6" stroke-width="1.25"/>
<line x1="716.2" y1="231.7" x2="831.8" y2="231.7" stroke-width="1.25"/>
<path d="M716.2,231.7 L731.2,229.3 L727.5,231.7 L731.2,234.1 Z" fill="#000" stroke="none"/>
<path d="M831.8,231.7 L816.8,234.1 L820.5,231.7 L816.8,229.3 Z" fill="#000" stroke="none"/>
<circle cx="745.5" cy="205.2" r="8" stroke-width="1.7"/>
<path d="M745.5,197.2 L761,197.2" stroke-width="1.5" fill="none"/>
<path d="M761,197.2 Q766.5,197.5 766.5,205.2 Q766.5,212.5 761,213.2 L745.5,213.2" stroke-width="1.4" fill="none" stroke-dasharray="4,2.5"/>
<path d="M766.5,197.2 L773.5,197.2 Q780.5,198 780.5,205.5" stroke-width="1.4" fill="none" stroke-dasharray="4,2.5"/>
<line x1="695" y1="205.5" x2="792" y2="205.5" stroke-width="1.25" stroke-dasharray="24,3,2,3"/>
<line x1="746.3" y1="164" x2="746.3" y2="241.7" stroke-width="1.4" stroke-dasharray="9,3"/>
<line x1="799.7" y1="166" x2="799.7" y2="241.7" stroke-width="1.4" stroke-dasharray="9,3"/>
<line x1="747" y1="241.7" x2="747" y2="276" stroke-width="1.3"/>
<line x1="799.9" y1="241.7" x2="799.9" y2="258" stroke-width="1.3"/>
<line x1="799.9" y1="273" x2="799.9" y2="276" stroke-width="1.3"/>
<line x1="781.8" y1="184" x2="781.8" y2="254" stroke-width="1.4"/>
<line x1="772" y1="161" x2="772" y2="276" stroke-width="1.1"/>
<path d="M746.1,161.2 C755,162.5 762,164 769,164.7" stroke-width="1.6" fill="none"/>
<path d="M710.3,164.3 C725,173 745,180 772,181.2" stroke-width="1.6" fill="none"/>
<path d="M781.8,166.7 Q791,162.5 800,159.9" stroke-width="1.6" fill="none"/>
<path d="M781.8,166.7 C790,172 797,177 805.6,179.6" stroke-width="1.6" fill="none"/>
<g fill="#000" stroke="none"><circle cx="771.8" cy="174.0" r="0.71"/><circle cx="776.3" cy="175.9" r="0.62"/><circle cx="772.0" cy="166.8" r="0.90"/><circle cx="774.7" cy="180.8" r="0.74"/><circle cx="776.8" cy="164.9" r="0.79"/><circle cx="779.7" cy="173.5" r="0.82"/><circle cx="777.8" cy="181.8" r="0.81"/><circle cx="780.3" cy="170.6" r="0.84"/><circle cx="776.6" cy="168.4" r="0.75"/><circle cx="773.6" cy="169.5" r="0.78"/><circle cx="779.5" cy="184.4" r="0.80"/><circle cx="780.9" cy="182.4" r="0.77"/><circle cx="772.4" cy="162.9" r="0.86"/><circle cx="769.2" cy="166.0" r="0.72"/><circle cx="772.7" cy="183.6" r="0.87"/><circle cx="773.5" cy="172.1" r="0.76"/><circle cx="774.2" cy="178.1" r="0.67"/><circle cx="780.8" cy="167.2" r="0.74"/><circle cx="771.1" cy="171.5" r="0.81"/><circle cx="770.1" cy="168.9" r="0.70"/><circle cx="778.9" cy="176.3" r="0.84"/><circle cx="772.4" cy="179.8" r="0.68"/><circle cx="777.1" cy="173.4" r="0.69"/></g>
<path d="M767.3,159.9 L781.8,166.7 L782.8,184.1 L772.6,186.1 Z" stroke-width="1.7" fill="none"/>
<g fill="#000" stroke="none"><circle cx="812.8" cy="163.2" r="0.72"/><circle cx="816.8" cy="182.5" r="0.84"/><circle cx="825.6" cy="166.0" r="0.76"/><circle cx="809.7" cy="165.8" r="0.88"/><circle cx="827.2" cy="179.9" r="0.84"/><circle cx="811.8" cy="168.1" r="0.79"/><circle cx="824.8" cy="181.0" r="0.86"/><circle cx="809.2" cy="175.1" r="0.80"/><circle cx="819.3" cy="164.9" r="0.74"/><circle cx="828.0" cy="173.7" r="0.69"/><circle cx="819.4" cy="170.6" r="0.78"/><circle cx="814.5" cy="180.0" r="0.61"/><circle cx="813.9" cy="173.4" r="0.74"/><circle cx="811.8" cy="170.5" r="0.66"/><circle cx="822.4" cy="167.3" r="0.71"/><circle cx="825.2" cy="168.3" r="0.77"/><circle cx="829.0" cy="163.1" r="0.62"/><circle cx="815.1" cy="164.9" r="0.74"/><circle cx="808.1" cy="177.3" r="0.87"/><circle cx="830.3" cy="161.1" r="0.69"/><circle cx="822.1" cy="180.2" r="0.69"/><circle cx="830.4" cy="168.6" r="0.60"/><circle cx="823.5" cy="164.3" r="0.61"/><circle cx="819.9" cy="179.1" r="0.72"/><circle cx="808.0" cy="170.7" r="0.67"/><circle cx="819.2" cy="161.5" r="0.68"/><circle cx="810.5" cy="161.9" r="0.88"/><circle cx="825.1" cy="172.5" r="0.63"/><circle cx="828.9" cy="182.7" r="0.70"/><circle cx="819.9" cy="176.3" r="0.81"/><circle cx="823.3" cy="161.8" r="0.87"/><circle cx="829.5" cy="165.9" r="0.60"/><circle cx="818.5" cy="173.2" r="0.61"/><circle cx="818.9" cy="181.3" r="0.78"/><circle cx="825.9" cy="162.3" r="0.86"/><circle cx="827.3" cy="170.8" r="0.84"/><circle cx="823.5" cy="175.2" r="0.69"/><circle cx="821.9" cy="171.2" r="0.64"/><circle cx="811.4" cy="176.3" r="0.70"/><circle cx="814.4" cy="161.3" r="0.61"/><circle cx="821.0" cy="183.0" r="0.83"/><circle cx="807.4" cy="165.1" r="0.76"/><circle cx="811.1" cy="179.5" r="0.80"/><circle cx="807.9" cy="168.2" r="0.64"/><circle cx="824.1" cy="178.1" r="0.80"/><circle cx="815.0" cy="169.9" r="0.73"/><circle cx="827.9" cy="176.5" r="0.69"/><circle cx="816.5" cy="175.1" r="0.61"/><circle cx="814.3" cy="177.1" r="0.84"/><circle cx="823.7" cy="184.0" r="0.62"/><circle cx="817.2" cy="163.4" r="0.69"/><circle cx="818.5" cy="167.4" r="0.81"/><circle cx="807.2" cy="173.3" r="0.86"/></g>
<path d="M805.6,159.7 L830.3,159.2 L832.8,160.5 L828.6,186 L826,184.7 L816,182.5 L805.6,179.6 Z" stroke-width="1.7" fill="none"/>
<path d="M712.9,275 C722,266 738,260.5 758.2,260.9 C764,261 768,261.5 770.3,262" stroke-width="1.6" fill="none"/>
<path d="M745,275.1 C755,272.5 763,270.5 770.3,269.7" stroke-width="1.6" fill="none"/>
<path d="M772.5,274 C776,272 780,270 783.4,269.7 C792,262 798,259 805.4,257.6 C812,255.5 820,253.5 829.6,252.6" stroke-width="1.6" fill="none"/>
<path d="M783.4,269.7 C790,270.5 795,272 799.9,273" stroke-width="1.6" fill="none"/>
<g fill="#000" stroke="none"><circle cx="775.9" cy="271.2" r="0.84"/><circle cx="779.4" cy="255.3" r="0.74"/><circle cx="779.6" cy="269.1" r="0.87"/><circle cx="771.4" cy="266.8" r="0.77"/><circle cx="771.8" cy="275.0" r="0.83"/><circle cx="770.4" cy="272.4" r="0.64"/><circle cx="775.8" cy="257.5" r="0.60"/><circle cx="778.8" cy="259.3" r="0.66"/><circle cx="772.8" cy="258.4" r="0.64"/><circle cx="775.6" cy="254.8" r="0.80"/><circle cx="772.5" cy="261.6" r="0.85"/><circle cx="769.2" cy="276.3" r="0.61"/><circle cx="774.9" cy="261.6" r="0.70"/><circle cx="770.3" cy="270.0" r="0.90"/><circle cx="780.1" cy="266.5" r="0.72"/><circle cx="778.3" cy="264.8" r="0.73"/><circle cx="772.8" cy="272.1" r="0.83"/><circle cx="777.9" cy="262.4" r="0.79"/><circle cx="774.6" cy="266.5" r="0.65"/><circle cx="773.5" cy="268.5" r="0.83"/><circle cx="772.9" cy="255.5" r="0.78"/></g>
<path d="M772.5,253.2 L781.2,253.2 L781.8,269.7 L767,278.4 Z" stroke-width="1.7" fill="none"/>
<g fill="#000" stroke="none"><circle cx="826.5" cy="269.2" r="0.75"/><circle cx="823.3" cy="262.8" r="0.83"/><circle cx="816.4" cy="268.3" r="0.68"/><circle cx="817.4" cy="264.0" r="0.80"/><circle cx="812.1" cy="264.3" r="0.84"/><circle cx="813.8" cy="268.9" r="0.81"/><circle cx="827.7" cy="260.3" r="0.63"/><circle cx="818.1" cy="255.8" r="0.66"/><circle cx="822.7" cy="259.5" r="0.89"/><circle cx="829.8" cy="270.8" r="0.75"/><circle cx="822.9" cy="266.9" r="0.84"/><circle cx="814.8" cy="264.9" r="0.63"/><circle cx="828.5" cy="263.8" r="0.64"/><circle cx="810.8" cy="258.0" r="0.86"/><circle cx="824.2" cy="254.3" r="0.83"/><circle cx="807.9" cy="260.2" r="0.87"/><circle cx="816.5" cy="261.3" r="0.64"/><circle cx="817.0" cy="272.1" r="0.67"/><circle cx="823.5" cy="270.5" r="0.73"/><circle cx="819.8" cy="262.8" r="0.81"/><circle cx="825.3" cy="259.0" r="0.75"/><circle cx="813.6" cy="262.4" r="0.88"/><circle cx="808.2" cy="268.3" r="0.63"/><circle cx="827.4" cy="255.6" r="0.79"/><circle cx="810.8" cy="271.5" r="0.87"/><circle cx="818.2" cy="259.2" r="0.81"/><circle cx="830.0" cy="255.6" r="0.86"/><circle cx="814.2" cy="271.9" r="0.73"/><circle cx="831.2" cy="268.2" r="0.88"/><circle cx="814.2" cy="256.9" r="0.77"/><circle cx="826.3" cy="264.6" r="0.66"/><circle cx="831.3" cy="264.2" r="0.80"/><circle cx="808.3" cy="264.1" r="0.84"/><circle cx="818.8" cy="267.4" r="0.86"/><circle cx="808.2" cy="271.1" r="0.88"/><circle cx="830.9" cy="261.2" r="0.78"/><circle cx="819.9" cy="271.7" r="0.76"/><circle cx="810.2" cy="266.8" r="0.83"/><circle cx="820.4" cy="260.5" r="0.76"/><circle cx="821.7" cy="255.8" r="0.86"/><circle cx="810.2" cy="262.2" r="0.76"/><circle cx="812.7" cy="260.1" r="0.73"/><circle cx="827.3" cy="272.1" r="0.75"/></g>
<path d="M806,258.1 L812,256 L820,253.8 L829.6,252.6 L832.9,274 L806,273.5 Z" stroke-width="1.7" fill="none"/>
<path d="M747.8,275.5 L747.8,356.8 L754,363.5 L795.4,363.5 L800.8,356.8 L800.8,275" stroke-width="2.0" fill="none"/>
<line x1="747.8" y1="356.8" x2="800.8" y2="356.8" stroke-width="1.2"/>
<line x1="782.1" y1="276" x2="782.1" y2="363.5" stroke-width="1.3" stroke-dasharray="9,3"/>
<g clip-path="url(#c11)">
<line x1="-50" y1="-1031.3" x2="915" y2="-47.0" stroke-width="1.35"/>
<line x1="-50" y1="-1015.0" x2="915" y2="-30.7" stroke-width="1.35"/>
<line x1="-50" y1="-998.7" x2="915" y2="-14.4" stroke-width="1.35"/>
<line x1="-50" y1="-982.4" x2="915" y2="1.9" stroke-width="1.35"/>
<line x1="-50" y1="-966.1" x2="915" y2="18.2" stroke-width="1.35"/>
<line x1="-50" y1="-949.8" x2="915" y2="34.5" stroke-width="1.35"/>
<line x1="-50" y1="-933.5" x2="915" y2="50.8" stroke-width="1.35"/>
<line x1="-50" y1="-917.2" x2="915" y2="67.1" stroke-width="1.35"/>
<line x1="-50" y1="-900.9" x2="915" y2="83.4" stroke-width="1.35"/>
<line x1="-50" y1="-884.6" x2="915" y2="99.7" stroke-width="1.35"/>
<line x1="-50" y1="-868.3" x2="915" y2="116.0" stroke-width="1.35"/>
<line x1="-50" y1="-852.0" x2="915" y2="132.3" stroke-width="1.35"/>
<line x1="-50" y1="-835.7" x2="915" y2="148.6" stroke-width="1.35"/>
<line x1="-50" y1="-819.4" x2="915" y2="164.9" stroke-width="1.35"/>
<line x1="-50" y1="-803.1" x2="915" y2="181.2" stroke-width="1.35"/>
<line x1="-50" y1="-786.8" x2="915" y2="197.5" stroke-width="1.35"/>
<line x1="-50" y1="-770.5" x2="915" y2="213.8" stroke-width="1.35"/>
<line x1="-50" y1="-754.2" x2="915" y2="230.1" stroke-width="1.35"/>
<line x1="-50" y1="-737.9" x2="915" y2="246.4" stroke-width="1.35"/>
<line x1="-50" y1="-721.6" x2="915" y2="262.7" stroke-width="1.35"/>
<line x1="-50" y1="-705.3" x2="915" y2="279.0" stroke-width="1.35"/>
<line x1="-50" y1="-689.0" x2="915" y2="295.3" stroke-width="1.35"/>
<line x1="-50" y1="-672.7" x2="915" y2="311.6" stroke-width="1.35"/>
<line x1="-50" y1="-656.4" x2="915" y2="327.9" stroke-width="1.35"/>
<line x1="-50" y1="-640.1" x2="915" y2="344.2" stroke-width="1.35"/>
<line x1="-50" y1="-623.8" x2="915" y2="360.5" stroke-width="1.35"/>
<line x1="-50" y1="-607.5" x2="915" y2="376.8" stroke-width="1.35"/>
<line x1="-50" y1="-591.2" x2="915" y2="393.1" stroke-width="1.35"/>
<line x1="-50" y1="-574.9" x2="915" y2="409.4" stroke-width="1.35"/>
<line x1="-50" y1="-558.6" x2="915" y2="425.7" stroke-width="1.35"/>
<line x1="-50" y1="-542.3" x2="915" y2="442.0" stroke-width="1.35"/>
<line x1="-50" y1="-526.0" x2="915" y2="458.3" stroke-width="1.35"/>
<line x1="-50" y1="-509.7" x2="915" y2="474.6" stroke-width="1.35"/>
<line x1="-50" y1="-493.4" x2="915" y2="490.9" stroke-width="1.35"/>
<line x1="-50" y1="-477.1" x2="915" y2="507.2" stroke-width="1.35"/>
<line x1="-50" y1="-460.8" x2="915" y2="523.5" stroke-width="1.35"/>
<line x1="-50" y1="-444.5" x2="915" y2="539.8" stroke-width="1.35"/>
<line x1="-50" y1="-428.2" x2="915" y2="556.1" stroke-width="1.35"/>
<line x1="-50" y1="-411.9" x2="915" y2="572.4" stroke-width="1.35"/>
<line x1="-50" y1="-395.6" x2="915" y2="588.7" stroke-width="1.35"/>
<line x1="-50" y1="-379.3" x2="915" y2="605.0" stroke-width="1.35"/>
<line x1="-50" y1="-363.0" x2="915" y2="621.3" stroke-width="1.35"/>
<line x1="-50" y1="-346.7" x2="915" y2="637.6" stroke-width="1.35"/>
<line x1="-50" y1="-330.4" x2="915" y2="653.9" stroke-width="1.35"/>
<line x1="-50" y1="-314.1" x2="915" y2="670.2" stroke-width="1.35"/>
<line x1="-50" y1="-297.8" x2="915" y2="686.5" stroke-width="1.35"/>
<line x1="-50" y1="-281.5" x2="915" y2="702.8" stroke-width="1.35"/>
<line x1="-50" y1="-265.2" x2="915" y2="719.1" stroke-width="1.35"/>
<line x1="-50" y1="-248.9" x2="915" y2="735.4" stroke-width="1.35"/>
<line x1="-50" y1="-232.6" x2="915" y2="751.7" stroke-width="1.35"/>
<line x1="-50" y1="-216.3" x2="915" y2="768.0" stroke-width="1.35"/>
<line x1="-50" y1="-200.0" x2="915" y2="784.3" stroke-width="1.35"/>
<line x1="-50" y1="-183.7" x2="915" y2="800.6" stroke-width="1.35"/>
<line x1="-50" y1="-167.4" x2="915" y2="816.9" stroke-width="1.35"/>
<line x1="-50" y1="-151.1" x2="915" y2="833.2" stroke-width="1.35"/>
<line x1="-50" y1="-134.8" x2="915" y2="849.5" stroke-width="1.35"/>
<line x1="-50" y1="-118.5" x2="915" y2="865.8" stroke-width="1.35"/>
<line x1="-50" y1="-102.2" x2="915" y2="882.1" stroke-width="1.35"/>
<line x1="-50" y1="-85.9" x2="915" y2="898.4" stroke-width="1.35"/>
<line x1="-50" y1="-69.6" x2="915" y2="914.7" stroke-width="1.35"/>
<line x1="-50" y1="-53.3" x2="915" y2="931.0" stroke-width="1.35"/>
<line x1="-50" y1="-37.0" x2="915" y2="947.3" stroke-width="1.35"/>
<line x1="-50" y1="-20.7" x2="915" y2="963.6" stroke-width="1.35"/>
<line x1="-50" y1="-4.4" x2="915" y2="979.9" stroke-width="1.35"/>
<line x1="-50" y1="11.9" x2="915" y2="996.2" stroke-width="1.35"/>
<line x1="-50" y1="28.2" x2="915" y2="1012.5" stroke-width="1.35"/>
<line x1="-50" y1="44.5" x2="915" y2="1028.8" stroke-width="1.35"/>
<line x1="-50" y1="60.8" x2="915" y2="1045.1" stroke-width="1.35"/>
<line x1="-50" y1="77.1" x2="915" y2="1061.4" stroke-width="1.35"/>
<line x1="-50" y1="93.4" x2="915" y2="1077.7" stroke-width="1.35"/>
<line x1="-50" y1="109.7" x2="915" y2="1094.0" stroke-width="1.35"/>
<line x1="-50" y1="126.0" x2="915" y2="1110.3" stroke-width="1.35"/>
<line x1="-50" y1="142.3" x2="915" y2="1126.6" stroke-width="1.35"/>
<line x1="-50" y1="158.6" x2="915" y2="1142.9" stroke-width="1.35"/>
<line x1="-50" y1="174.9" x2="915" y2="1159.2" stroke-width="1.35"/>
<line x1="-50" y1="191.2" x2="915" y2="1175.5" stroke-width="1.35"/>
<line x1="-50" y1="207.5" x2="915" y2="1191.8" stroke-width="1.35"/>
<line x1="-50" y1="223.8" x2="915" y2="1208.1" stroke-width="1.35"/>
<line x1="-50" y1="240.1" x2="915" y2="1224.4" stroke-width="1.35"/>
<line x1="-50" y1="256.4" x2="915" y2="1240.7" stroke-width="1.35"/>
<line x1="-50" y1="272.7" x2="915" y2="1257.0" stroke-width="1.35"/>
<line x1="-50" y1="289.0" x2="915" y2="1273.3" stroke-width="1.35"/>
<line x1="-50" y1="305.3" x2="915" y2="1289.6" stroke-width="1.35"/>
<line x1="-50" y1="321.6" x2="915" y2="1305.9" stroke-width="1.35"/>
<line x1="-50" y1="337.9" x2="915" y2="1322.2" stroke-width="1.35"/>
<line x1="-50" y1="354.2" x2="915" y2="1338.5" stroke-width="1.35"/>
<line x1="-50" y1="370.5" x2="915" y2="1354.8" stroke-width="1.35"/>
<line x1="-50" y1="386.8" x2="915" y2="1371.1" stroke-width="1.35"/>
<line x1="-50" y1="403.1" x2="915" y2="1387.4" stroke-width="1.35"/>
<line x1="-50" y1="419.4" x2="915" y2="1403.7" stroke-width="1.35"/>
<line x1="-50" y1="435.7" x2="915" y2="1420.0" stroke-width="1.35"/>
<line x1="-50" y1="452.0" x2="915" y2="1436.3" stroke-width="1.35"/>
</g>
<g clip-path="url(#c12)">
<line x1="-50" y1="-998.2" x2="915" y2="-33.2" stroke-width="1.35"/>
<line x1="-50" y1="-979.5" x2="915" y2="-14.5" stroke-width="1.35"/>
<line x1="-50" y1="-960.8" x2="915" y2="4.2" stroke-width="1.35"/>
<line x1="-50" y1="-942.1" x2="915" y2="22.9" stroke-width="1.35"/>
<line x1="-50" y1="-923.4" x2="915" y2="41.6" stroke-width="1.35"/>
<line x1="-50" y1="-904.7" x2="915" y2="60.3" stroke-width="1.35"/>
<line x1="-50" y1="-886.0" x2="915" y2="79.0" stroke-width="1.35"/>
<line x1="-50" y1="-867.3" x2="915" y2="97.7" stroke-width="1.35"/>
<line x1="-50" y1="-848.6" x2="915" y2="116.4" stroke-width="1.35"/>
<line x1="-50" y1="-829.9" x2="915" y2="135.1" stroke-width="1.35"/>
<line x1="-50" y1="-811.2" x2="915" y2="153.8" stroke-width="1.35"/>
<line x1="-50" y1="-792.5" x2="915" y2="172.5" stroke-width="1.35"/>
<line x1="-50" y1="-773.8" x2="915" y2="191.2" stroke-width="1.35"/>
<line x1="-50" y1="-755.1" x2="915" y2="209.9" stroke-width="1.35"/>
<line x1="-50" y1="-736.4" x2="915" y2="228.6" stroke-width="1.35"/>
<line x1="-50" y1="-717.7" x2="915" y2="247.3" stroke-width="1.35"/>
<line x1="-50" y1="-699.0" x2="915" y2="266.0" stroke-width="1.35"/>
<line x1="-50" y1="-680.3" x2="915" y2="284.7" stroke-width="1.35"/>
<line x1="-50" y1="-661.6" x2="915" y2="303.4" stroke-width="1.35"/>
<line x1="-50" y1="-642.9" x2="915" y2="322.1" stroke-width="1.35"/>
<line x1="-50" y1="-624.2" x2="915" y2="340.8" stroke-width="1.35"/>
<line x1="-50" y1="-605.5" x2="915" y2="359.5" stroke-width="1.35"/>
<line x1="-50" y1="-586.8" x2="915" y2="378.2" stroke-width="1.35"/>
<line x1="-50" y1="-568.1" x2="915" y2="396.9" stroke-width="1.35"/>
<line x1="-50" y1="-549.4" x2="915" y2="415.6" stroke-width="1.35"/>
<line x1="-50" y1="-530.7" x2="915" y2="434.3" stroke-width="1.35"/>
<line x1="-50" y1="-512.0" x2="915" y2="453.0" stroke-width="1.35"/>
<line x1="-50" y1="-493.3" x2="915" y2="471.7" stroke-width="1.35"/>
<line x1="-50" y1="-474.6" x2="915" y2="490.4" stroke-width="1.35"/>
<line x1="-50" y1="-455.9" x2="915" y2="509.1" stroke-width="1.35"/>
<line x1="-50" y1="-437.2" x2="915" y2="527.8" stroke-width="1.35"/>
<line x1="-50" y1="-418.5" x2="915" y2="546.5" stroke-width="1.35"/>
<line x1="-50" y1="-399.8" x2="915" y2="565.2" stroke-width="1.35"/>
<line x1="-50" y1="-381.1" x2="915" y2="583.9" stroke-width="1.35"/>
<line x1="-50" y1="-362.4" x2="915" y2="602.6" stroke-width="1.35"/>
<line x1="-50" y1="-343.7" x2="915" y2="621.3" stroke-width="1.35"/>
<line x1="-50" y1="-325.0" x2="915" y2="640.0" stroke-width="1.35"/>
<line x1="-50" y1="-306.3" x2="915" y2="658.7" stroke-width="1.35"/>
<line x1="-50" y1="-287.6" x2="915" y2="677.4" stroke-width="1.35"/>
<line x1="-50" y1="-268.9" x2="915" y2="696.1" stroke-width="1.35"/>
<line x1="-50" y1="-250.2" x2="915" y2="714.8" stroke-width="1.35"/>
<line x1="-50" y1="-231.5" x2="915" y2="733.5" stroke-width="1.35"/>
<line x1="-50" y1="-212.8" x2="915" y2="752.2" stroke-width="1.35"/>
<line x1="-50" y1="-194.1" x2="915" y2="770.9" stroke-width="1.35"/>
<line x1="-50" y1="-175.4" x2="915" y2="789.6" stroke-width="1.35"/>
<line x1="-50" y1="-156.7" x2="915" y2="808.3" stroke-width="1.35"/>
<line x1="-50" y1="-138.0" x2="915" y2="827.0" stroke-width="1.35"/>
<line x1="-50" y1="-119.3" x2="915" y2="845.7" stroke-width="1.35"/>
<line x1="-50" y1="-100.6" x2="915" y2="864.4" stroke-width="1.35"/>
<line x1="-50" y1="-81.9" x2="915" y2="883.1" stroke-width="1.35"/>
<line x1="-50" y1="-63.2" x2="915" y2="901.8" stroke-width="1.35"/>
<line x1="-50" y1="-44.5" x2="915" y2="920.5" stroke-width="1.35"/>
<line x1="-50" y1="-25.8" x2="915" y2="939.2" stroke-width="1.35"/>
<line x1="-50" y1="-7.1" x2="915" y2="957.9" stroke-width="1.35"/>
<line x1="-50" y1="11.6" x2="915" y2="976.6" stroke-width="1.35"/>
<line x1="-50" y1="30.3" x2="915" y2="995.3" stroke-width="1.35"/>
<line x1="-50" y1="49.0" x2="915" y2="1014.0" stroke-width="1.35"/>
<line x1="-50" y1="67.7" x2="915" y2="1032.7" stroke-width="1.35"/>
<line x1="-50" y1="86.4" x2="915" y2="1051.4" stroke-width="1.35"/>
<line x1="-50" y1="105.1" x2="915" y2="1070.1" stroke-width="1.35"/>
<line x1="-50" y1="123.8" x2="915" y2="1088.8" stroke-width="1.35"/>
<line x1="-50" y1="142.5" x2="915" y2="1107.5" stroke-width="1.35"/>
<line x1="-50" y1="161.2" x2="915" y2="1126.2" stroke-width="1.35"/>
<line x1="-50" y1="179.9" x2="915" y2="1144.9" stroke-width="1.35"/>
<line x1="-50" y1="198.6" x2="915" y2="1163.6" stroke-width="1.35"/>
<line x1="-50" y1="217.3" x2="915" y2="1182.3" stroke-width="1.35"/>
<line x1="-50" y1="236.0" x2="915" y2="1201.0" stroke-width="1.35"/>
<line x1="-50" y1="254.7" x2="915" y2="1219.7" stroke-width="1.35"/>
<line x1="-50" y1="273.4" x2="915" y2="1238.4" stroke-width="1.35"/>
<line x1="-50" y1="292.1" x2="915" y2="1257.1" stroke-width="1.35"/>
<line x1="-50" y1="310.8" x2="915" y2="1275.8" stroke-width="1.35"/>
<line x1="-50" y1="329.5" x2="915" y2="1294.5" stroke-width="1.35"/>
<line x1="-50" y1="348.2" x2="915" y2="1313.2" stroke-width="1.35"/>
<line x1="-50" y1="366.9" x2="915" y2="1331.9" stroke-width="1.35"/>
<line x1="-50" y1="385.6" x2="915" y2="1350.6" stroke-width="1.35"/>
<line x1="-50" y1="404.3" x2="915" y2="1369.3" stroke-width="1.35"/>
<line x1="-50" y1="423.0" x2="915" y2="1388.0" stroke-width="1.35"/>
<line x1="-50" y1="441.7" x2="915" y2="1406.7" stroke-width="1.35"/>
<line x1="-50" y1="460.4" x2="915" y2="1425.4" stroke-width="1.35"/>
</g>
<path d="M696.8,297.2 L713,297.2 Q716.5,297 718,294 Q719,292.1 721.5,292.1 L747.8,292.1" stroke-width="2.0" fill="none"/>
<path d="M800.8,291.1 L824.2,291.1 L829,295.5 Q830,296 832,296 L849,296" stroke-width="2.0" fill="none"/>
<line x1="704.6" y1="350.7" x2="747.8" y2="350.7" stroke-width="2.0"/>
<line x1="800.8" y1="348.7" x2="852.1" y2="348.7" stroke-width="2.0"/>
<line x1="772" y1="9" x2="772" y2="58" stroke-width="1.25"/>
<line x1="772" y1="58" x2="772" y2="97" stroke-width="1.25" stroke-dasharray="24,3,2,3"/>
<line x1="772" y1="119" x2="772" y2="376.5" stroke-width="1.25" stroke-dasharray="40,3,2,3"/>
<text transform="translate(761.02,112.52) scale(1.233,1)" font-size="18.29" style="font-style:italic;">d</text>
<text transform="translate(773.71,116.70) scale(0.494,1)" font-size="15.61" style="">1</text>
<text transform="translate(758.87,227.92) scale(1.158,1)" font-size="18.00" style="font-style:italic;">d</text>
<text transform="translate(771.38,401.95) scale(1.031,1)" font-size="19.78" style="">d)</text>
</g>
</svg>
</body></html>
